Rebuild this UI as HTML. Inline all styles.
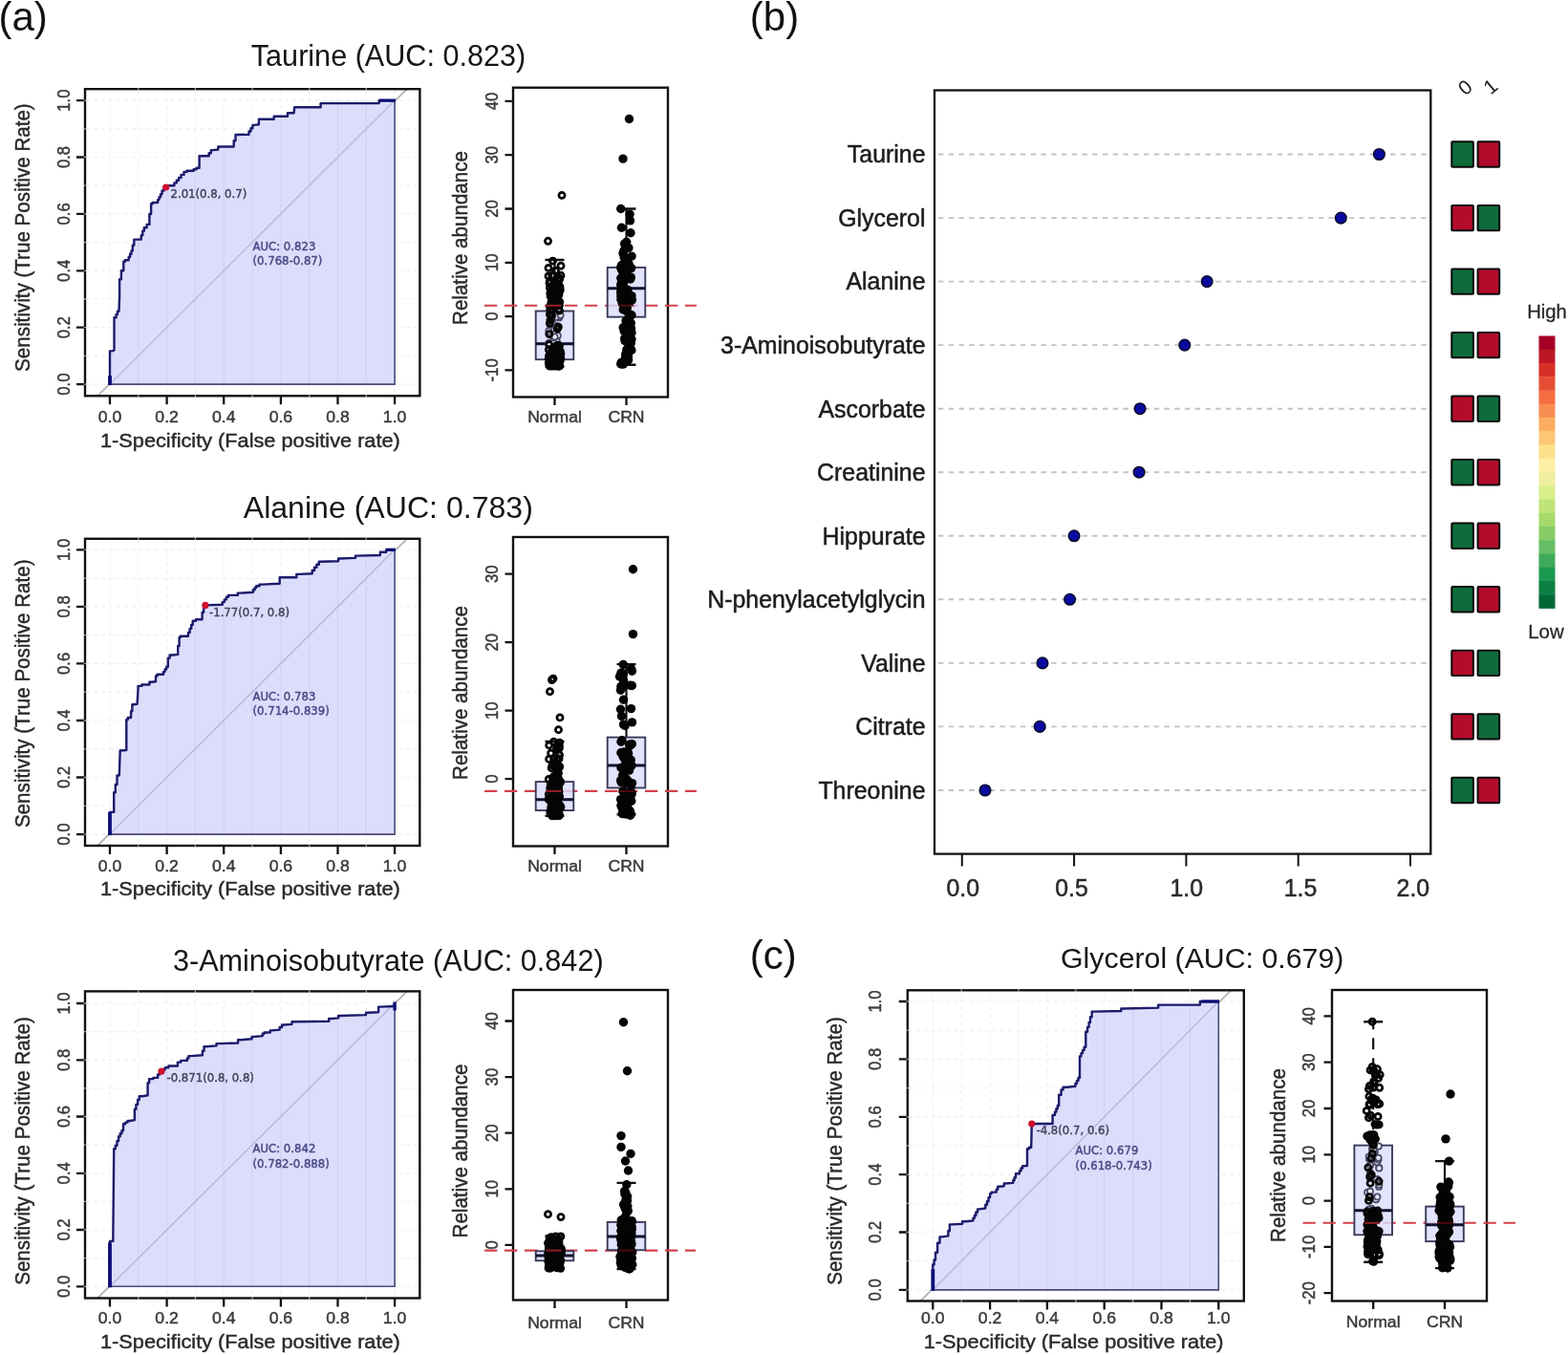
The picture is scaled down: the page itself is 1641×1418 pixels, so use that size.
<!DOCTYPE html>
<html lang="en"><head><meta charset="utf-8"><title>ROC curves and VIP scores</title>
<style>
html,body{margin:0;padding:0;background:#fff;}
body{width:1641px;height:1418px;overflow:hidden;font-family:"Liberation Sans", Arial, sans-serif;}
svg{display:block;}
</style></head><body>
<svg width="1641" height="1418" viewBox="0 0 1641 1418" font-family='"Liberation Sans", Arial, sans-serif' role="img" aria-label="ROC curves, box plots and VIP scores">
<rect width="1641" height="1418" fill="#fff"/>
<text x="-1.5" y="31.6" font-size="42" text-anchor="start" fill="#111">(a)</text>
<text x="784.8" y="31.6" font-size="42" text-anchor="start" fill="#111">(b)</text>
<text x="784.8" y="1013.6" font-size="42" text-anchor="start" fill="#111">(c)</text>
<text x="406.5" y="69.0" font-size="30.6" text-anchor="middle" fill="#151515">Taurine (AUC: 0.823)</text>
<text x="406.3" y="542.0" font-size="32.1" text-anchor="middle" fill="#151515">Alanine (AUC: 0.783)</text>
<text x="406.3" y="1015.7" font-size="30.6" text-anchor="middle" fill="#151515">3-Aminoisobutyrate (AUC: 0.842)</text>
<text x="1258.2" y="1013.4" font-size="30.3" text-anchor="middle" fill="#151515">Glycerol (AUC: 0.679)</text>
<g>
<path d="M115.0 94.2V413.3M90.0 402.1H438.4M144.8 94.2V413.3M90.0 372.4H438.4M174.6 94.2V413.3M90.0 342.7H438.4M204.4 94.2V413.3M90.0 313.0H438.4M234.2 94.2V413.3M90.0 283.3H438.4M264.1 94.2V413.3M90.0 253.6H438.4M293.9 94.2V413.3M90.0 223.9H438.4M323.7 94.2V413.3M90.0 194.2H438.4M353.5 94.2V413.3M90.0 164.5H438.4M383.3 94.2V413.3M90.0 134.8H438.4M413.1 94.2V413.3M90.0 105.1H438.4" stroke="#f0f0f0" stroke-width="1.2" stroke-dasharray="4 4" fill="none"/>
<line x1="102.1" y1="414.3" x2="426.0" y2="93.2" stroke="#b4b4b4" stroke-width="1.8"/>
<path d="M115.0 402.1L115.0 393.2V367.4H117.4L119.5 366.5L119.5 339.7V332.3H121.6V329.0H123.0V325.8H124.5L125.1 310.0V292.2H126.9V283.3H129.3V273.8H130.8V272.3H134.7V269.0H136.1V265.8H137.5V262.5H138.8V256.6H140.3V250.6H141.8L147.8 250.6V246.2H149.3V241.7H150.8V238.3H153.6V234.9H156.4V224.0H158.1V213.2H159.7V212.0H165.1V209.1H166.6V206.1H168.1V203.1H169.6V199.5H171.6V196.0H173.7V194.2H182.4V191.4H184.8V188.7H187.1V185.9H189.5V182.9H192.5V179.9H195.5V178.8H202.6V177.3H205.6V175.8H208.6L208.6 163.3L218.7 163.3V160.2H220.8V157.1H222.9L228.3 156.5V153.5H231.3L244.7 153.5V147.3H246.5V141.0H248.3L260.5 140.7V137.5H262.5V134.2H264.4V130.9H266.4L270.9 130.3V124.7H272.1L286.7 124.7V121.7H289.4L301.0 121.7V118.2H304.0L307.6 118.2L308.2 112.2L335.6 112.2V108.1H338.0L396.7 108.1V105.1H398.2L413.1 105.1L413.1 402.1Z" fill="#dcddfb" stroke="none"/>
<path d="M144.8 402.1V250.6M174.6 402.1V196.0M204.4 402.1V178.8M234.2 402.1V153.5M264.1 402.1V140.7M293.9 402.1V121.7M323.7 402.1V112.2M353.5 402.1V108.1M383.3 402.1V108.1" stroke="#d0d0f4" stroke-width="1.2" fill="none"/>
<line x1="115.0" y1="402.1" x2="413.1" y2="105.1" stroke="#b4b4d2" stroke-width="1.3"/>
<path d="M115.0 402.1H413.1V105.1" stroke="#4a4a78" stroke-width="1.6" fill="none"/>
<path d="M115.0 402.1L115.0 393.2V367.4H117.4L119.5 366.5L119.5 339.7V332.3H121.6V329.0H123.0V325.8H124.5L125.1 310.0V292.2H126.9V283.3H129.3V273.8H130.8V272.3H134.7V269.0H136.1V265.8H137.5V262.5H138.8V256.6H140.3V250.6H141.8L147.8 250.6V246.2H149.3V241.7H150.8V238.3H153.6V234.9H156.4V224.0H158.1V213.2H159.7V212.0H165.1V209.1H166.6V206.1H168.1V203.1H169.6V199.5H171.6V196.0H173.7V194.2H182.4V191.4H184.8V188.7H187.1V185.9H189.5V182.9H192.5V179.9H195.5V178.8H202.6V177.3H205.6V175.8H208.6L208.6 163.3L218.7 163.3V160.2H220.8V157.1H222.9L228.3 156.5V153.5H231.3L244.7 153.5V147.3H246.5V141.0H248.3L260.5 140.7V137.5H262.5V134.2H264.4V130.9H266.4L270.9 130.3V124.7H272.1L286.7 124.7V121.7H289.4L301.0 121.7V118.2H304.0L307.6 118.2L308.2 112.2L335.6 112.2V108.1H338.0L396.7 108.1V105.1H398.2L413.1 105.1" stroke="#1b1b6b" stroke-width="2.4" fill="none" stroke-linejoin="round"/>
<path d="M115.0 403.1V393.2" stroke="#0c0c78" stroke-width="3.8" fill="none"/>
<path d="M396.7 105.1H413.9" stroke="#0c0c78" stroke-width="3.2" fill="none"/>
<circle cx="173.7" cy="196.0" r="3.6" fill="#d01030"/>
<text x="178.5" y="206.5" font-size="11.7" text-anchor="start" fill="#44445e" stroke="#44445e" stroke-width="0.45" font-family="DejaVu Sans, Liberation Sans, sans-serif">2.01(0.8, 0.7)</text>
<text x="264.5" y="261.9" font-size="11.7" text-anchor="start" fill="#4a4a86" stroke="#4a4a86" stroke-width="0.45" font-family="DejaVu Sans, Liberation Sans, sans-serif">AUC: 0.823</text>
<text x="264.5" y="277.3" font-size="11.7" text-anchor="start" fill="#4a4a86" stroke="#4a4a86" stroke-width="0.45" font-family="DejaVu Sans, Liberation Sans, sans-serif">(0.768-0.87)</text>
<rect x="89.0" y="93.2" width="350.4" height="321.1" fill="none" stroke="#111" stroke-width="2.4"/>
<path d="M115.0 414.3v9M89.0 402.1h-9M174.6 414.3v9M89.0 342.7h-9M234.2 414.3v9M89.0 283.3h-9M293.9 414.3v9M89.0 223.9h-9M353.5 414.3v9M89.0 164.5h-9M413.1 414.3v9M89.0 105.1h-9" stroke="#111" stroke-width="2.3" fill="none"/>
<path d="M87.5 402.1h3M144.8 91.7v3M144.8 412.8v3M87.5 372.4h3M87.5 342.7h3M204.4 91.7v3M204.4 412.8v3M87.5 313.0h3M87.5 283.3h3M264.1 91.7v3M264.1 412.8v3M87.5 253.6h3M87.5 223.9h3M323.7 91.7v3M323.7 412.8v3M87.5 194.2h3M87.5 164.5h3M383.3 91.7v3M383.3 412.8v3M87.5 134.8h3M87.5 105.1h3" stroke="#fff" stroke-opacity="0.55" stroke-width="1.3" fill="none"/>
<text transform="translate(115.0 441.8) scale(1.055 1)" font-size="16.7" text-anchor="middle" fill="#3a3a3a" stroke="#3a3a3a" stroke-width="0.45">0.0</text>
<text transform="translate(72.7 402.1) scale(1.055 1) rotate(-90)" font-size="16.7" text-anchor="middle" fill="#3a3a3a" stroke="#3a3a3a" stroke-width="0.45">0.0</text>
<text transform="translate(174.6 441.8) scale(1.055 1)" font-size="16.7" text-anchor="middle" fill="#3a3a3a" stroke="#3a3a3a" stroke-width="0.45">0.2</text>
<text transform="translate(72.7 342.7) scale(1.055 1) rotate(-90)" font-size="16.7" text-anchor="middle" fill="#3a3a3a" stroke="#3a3a3a" stroke-width="0.45">0.2</text>
<text transform="translate(234.2 441.8) scale(1.055 1)" font-size="16.7" text-anchor="middle" fill="#3a3a3a" stroke="#3a3a3a" stroke-width="0.45">0.4</text>
<text transform="translate(72.7 283.3) scale(1.055 1) rotate(-90)" font-size="16.7" text-anchor="middle" fill="#3a3a3a" stroke="#3a3a3a" stroke-width="0.45">0.4</text>
<text transform="translate(293.9 441.8) scale(1.055 1)" font-size="16.7" text-anchor="middle" fill="#3a3a3a" stroke="#3a3a3a" stroke-width="0.45">0.6</text>
<text transform="translate(72.7 223.9) scale(1.055 1) rotate(-90)" font-size="16.7" text-anchor="middle" fill="#3a3a3a" stroke="#3a3a3a" stroke-width="0.45">0.6</text>
<text transform="translate(353.5 441.8) scale(1.055 1)" font-size="16.7" text-anchor="middle" fill="#3a3a3a" stroke="#3a3a3a" stroke-width="0.45">0.8</text>
<text transform="translate(72.7 164.5) scale(1.055 1) rotate(-90)" font-size="16.7" text-anchor="middle" fill="#3a3a3a" stroke="#3a3a3a" stroke-width="0.45">0.8</text>
<text transform="translate(413.1 441.8) scale(1.055 1)" font-size="16.7" text-anchor="middle" fill="#3a3a3a" stroke="#3a3a3a" stroke-width="0.45">1.0</text>
<text transform="translate(72.7 105.1) scale(1.055 1) rotate(-90)" font-size="16.7" text-anchor="middle" fill="#3a3a3a" stroke="#3a3a3a" stroke-width="0.45">1.0</text>
<text transform="translate(261.9 467.5) scale(1.055 1)" font-size="20.6" text-anchor="middle" fill="#2a2a2a" stroke="#2a2a2a" stroke-width="0.45">1-Specificity (False positive rate)</text>
<text transform="translate(30.5 248.6) scale(1.055 1) rotate(-90)" font-size="20.6" text-anchor="middle" fill="#2a2a2a" stroke="#2a2a2a" stroke-width="0.45">Sensitivity (True Positive Rate)</text>
</g>
<g>
<path d="M115.0 564.8V884.0M90.0 873.1H438.3M144.8 564.8V884.0M90.0 843.3H438.3M174.6 564.8V884.0M90.0 813.5H438.3M204.4 564.8V884.0M90.0 783.8H438.3M234.2 564.8V884.0M90.0 754.0H438.3M264.1 564.8V884.0M90.0 724.2H438.3M293.9 564.8V884.0M90.0 694.4H438.3M323.7 564.8V884.0M90.0 664.6H438.3M353.5 564.8V884.0M90.0 634.9H438.3M383.3 564.8V884.0M90.0 605.1H438.3M413.1 564.8V884.0M90.0 575.3H438.3" stroke="#f0f0f0" stroke-width="1.2" stroke-dasharray="4 4" fill="none"/>
<line x1="102.1" y1="885.0" x2="426.0" y2="563.8" stroke="#b4b4b4" stroke-width="1.8"/>
<path d="M115.0 873.1L115.0 849.9L119.2 849.9L119.2 837.4V829.2H120.8V821.0H122.5V811.5H124.8L125.7 785.5L132.3 785.0V753.1H133.8V751.0H137.1V744.2H138.4V737.3H139.7L143.6 736.7L144.5 721.5V717.9H148.4V716.5H156.4V713.8H158.2L163.0 713.2V707.5H164.5V705.7H171.0V703.1H172.6V700.4H174.2V697.7H175.8V688.8H177.6V685.5H180.9L186.2 684.9V676.0H187.6V667.0H188.9V665.8H197.0V661.9H198.6V657.9H200.2V653.9H201.7V649.8H205.0V648.3H211.6V640.8H213.2V633.4H214.9L232.7 632.8V630.1H234.8V627.4H236.9V624.7H239.0V622.9H248.8V620.6H252.1L264.9 619.7V617.3H266.6V614.9H268.2V613.3H271.5V611.6H274.8L292.7 610.7V604.2H295.1L310.3 604.2V600.9H312.6L326.7 600.3V597.0H329.0V593.8H331.4V590.8H333.8V587.8H336.2L354.1 587.2V584.5H355.9L372.0 583.9V581.6H373.5L397.9 581.0V577.7H399.4L404.2 577.7V575.3H405.3L413.1 575.3L413.1 873.1Z" fill="#dcddfb" stroke="none"/>
<path d="M144.8 873.1V721.5M174.6 873.1V705.7M204.4 873.1V653.9M234.2 873.1V632.8M264.1 873.1V620.6M293.9 873.1V610.7M323.7 873.1V600.9M353.5 873.1V587.8M383.3 873.1V581.6" stroke="#d0d0f4" stroke-width="1.2" fill="none"/>
<line x1="115.0" y1="873.1" x2="413.1" y2="575.3" stroke="#b4b4d2" stroke-width="1.3"/>
<path d="M115.0 873.1H413.1V575.3" stroke="#4a4a78" stroke-width="1.6" fill="none"/>
<path d="M115.0 873.1L115.0 849.9L119.2 849.9L119.2 837.4V829.2H120.8V821.0H122.5V811.5H124.8L125.7 785.5L132.3 785.0V753.1H133.8V751.0H137.1V744.2H138.4V737.3H139.7L143.6 736.7L144.5 721.5V717.9H148.4V716.5H156.4V713.8H158.2L163.0 713.2V707.5H164.5V705.7H171.0V703.1H172.6V700.4H174.2V697.7H175.8V688.8H177.6V685.5H180.9L186.2 684.9V676.0H187.6V667.0H188.9V665.8H197.0V661.9H198.6V657.9H200.2V653.9H201.7V649.8H205.0V648.3H211.6V640.8H213.2V633.4H214.9L232.7 632.8V630.1H234.8V627.4H236.9V624.7H239.0V622.9H248.8V620.6H252.1L264.9 619.7V617.3H266.6V614.9H268.2V613.3H271.5V611.6H274.8L292.7 610.7V604.2H295.1L310.3 604.2V600.9H312.6L326.7 600.3V597.0H329.0V593.8H331.4V590.8H333.8V587.8H336.2L354.1 587.2V584.5H355.9L372.0 583.9V581.6H373.5L397.9 581.0V577.7H399.4L404.2 577.7V575.3H405.3L413.1 575.3" stroke="#1b1b6b" stroke-width="2.4" fill="none" stroke-linejoin="round"/>
<path d="M115.0 874.1V849.9" stroke="#0c0c78" stroke-width="3.8" fill="none"/>
<path d="M404.2 575.3H413.9" stroke="#0c0c78" stroke-width="3.2" fill="none"/>
<circle cx="214.9" cy="633.4" r="3.6" fill="#d01030"/>
<text x="219.0" y="644.5" font-size="11.7" text-anchor="start" fill="#44445e" stroke="#44445e" stroke-width="0.45" font-family="DejaVu Sans, Liberation Sans, sans-serif">-1.77(0.7, 0.8)</text>
<text x="264.5" y="732.9" font-size="11.7" text-anchor="start" fill="#4a4a86" stroke="#4a4a86" stroke-width="0.45" font-family="DejaVu Sans, Liberation Sans, sans-serif">AUC: 0.783</text>
<text x="264.5" y="748.3" font-size="11.7" text-anchor="start" fill="#4a4a86" stroke="#4a4a86" stroke-width="0.45" font-family="DejaVu Sans, Liberation Sans, sans-serif">(0.714-0.839)</text>
<rect x="89.0" y="563.8" width="350.3" height="321.2" fill="none" stroke="#111" stroke-width="2.4"/>
<path d="M115.0 885.0v9M89.0 873.1h-9M174.6 885.0v9M89.0 813.5h-9M234.2 885.0v9M89.0 754.0h-9M293.9 885.0v9M89.0 694.4h-9M353.5 885.0v9M89.0 634.9h-9M413.1 885.0v9M89.0 575.3h-9" stroke="#111" stroke-width="2.3" fill="none"/>
<path d="M87.5 873.1h3M144.8 562.3v3M144.8 883.5v3M87.5 843.3h3M87.5 813.5h3M204.4 562.3v3M204.4 883.5v3M87.5 783.8h3M87.5 754.0h3M264.1 562.3v3M264.1 883.5v3M87.5 724.2h3M87.5 694.4h3M323.7 562.3v3M323.7 883.5v3M87.5 664.6h3M87.5 634.9h3M383.3 562.3v3M383.3 883.5v3M87.5 605.1h3M87.5 575.3h3" stroke="#fff" stroke-opacity="0.55" stroke-width="1.3" fill="none"/>
<text transform="translate(115.0 911.5) scale(1.055 1)" font-size="16.7" text-anchor="middle" fill="#3a3a3a" stroke="#3a3a3a" stroke-width="0.45">0.0</text>
<text transform="translate(72.7 873.1) scale(1.055 1) rotate(-90)" font-size="16.7" text-anchor="middle" fill="#3a3a3a" stroke="#3a3a3a" stroke-width="0.45">0.0</text>
<text transform="translate(174.6 911.5) scale(1.055 1)" font-size="16.7" text-anchor="middle" fill="#3a3a3a" stroke="#3a3a3a" stroke-width="0.45">0.2</text>
<text transform="translate(72.7 813.5) scale(1.055 1) rotate(-90)" font-size="16.7" text-anchor="middle" fill="#3a3a3a" stroke="#3a3a3a" stroke-width="0.45">0.2</text>
<text transform="translate(234.2 911.5) scale(1.055 1)" font-size="16.7" text-anchor="middle" fill="#3a3a3a" stroke="#3a3a3a" stroke-width="0.45">0.4</text>
<text transform="translate(72.7 754.0) scale(1.055 1) rotate(-90)" font-size="16.7" text-anchor="middle" fill="#3a3a3a" stroke="#3a3a3a" stroke-width="0.45">0.4</text>
<text transform="translate(293.9 911.5) scale(1.055 1)" font-size="16.7" text-anchor="middle" fill="#3a3a3a" stroke="#3a3a3a" stroke-width="0.45">0.6</text>
<text transform="translate(72.7 694.4) scale(1.055 1) rotate(-90)" font-size="16.7" text-anchor="middle" fill="#3a3a3a" stroke="#3a3a3a" stroke-width="0.45">0.6</text>
<text transform="translate(353.5 911.5) scale(1.055 1)" font-size="16.7" text-anchor="middle" fill="#3a3a3a" stroke="#3a3a3a" stroke-width="0.45">0.8</text>
<text transform="translate(72.7 634.9) scale(1.055 1) rotate(-90)" font-size="16.7" text-anchor="middle" fill="#3a3a3a" stroke="#3a3a3a" stroke-width="0.45">0.8</text>
<text transform="translate(413.1 911.5) scale(1.055 1)" font-size="16.7" text-anchor="middle" fill="#3a3a3a" stroke="#3a3a3a" stroke-width="0.45">1.0</text>
<text transform="translate(72.7 575.3) scale(1.055 1) rotate(-90)" font-size="16.7" text-anchor="middle" fill="#3a3a3a" stroke="#3a3a3a" stroke-width="0.45">1.0</text>
<text transform="translate(261.9 937.0) scale(1.055 1)" font-size="20.6" text-anchor="middle" fill="#2a2a2a" stroke="#2a2a2a" stroke-width="0.45">1-Specificity (False positive rate)</text>
<text transform="translate(30.5 725.8) scale(1.055 1) rotate(-90)" font-size="20.6" text-anchor="middle" fill="#2a2a2a" stroke="#2a2a2a" stroke-width="0.45">Sensitivity (True Positive Rate)</text>
</g>
<g>
<path d="M115.0 1038.4V1357.5M90.0 1346.3H438.3M144.8 1038.4V1357.5M90.0 1316.7H438.3M174.6 1038.4V1357.5M90.0 1287.0H438.3M204.4 1038.4V1357.5M90.0 1257.4H438.3M234.2 1038.4V1357.5M90.0 1227.8H438.3M264.1 1038.4V1357.5M90.0 1198.2H438.3M293.9 1038.4V1357.5M90.0 1168.5H438.3M323.7 1038.4V1357.5M90.0 1138.9H438.3M353.5 1038.4V1357.5M90.0 1109.3H438.3M383.3 1038.4V1357.5M90.0 1079.6H438.3M413.1 1038.4V1357.5M90.0 1050.0H438.3" stroke="#f0f0f0" stroke-width="1.2" stroke-dasharray="4 4" fill="none"/>
<line x1="102.1" y1="1358.5" x2="426.0" y2="1037.4" stroke="#b4b4b4" stroke-width="1.8"/>
<path d="M115.0 1346.3L115.0 1300.4V1298.9H118.3L119.2 1205.9V1202.3H120.8V1198.7H122.5V1194.0H124.1V1189.3H125.7V1186.3H127.4V1183.3H129.0V1176.2H131.1V1174.6H133.5V1173.0H135.9L140.9 1172.1V1160.8H142.4V1155.9H144.1V1151.0H145.7V1147.2H149.0L154.6 1146.3V1133.3H156.1V1129.1H160.3V1127.9H165.1V1124.5H167.0V1121.1H169.0V1119.2H172.7V1117.3H176.4V1115.5H185.9V1111.6H189.2V1109.9H195.8V1107.5H197.4V1105.1H199.1L211.9 1104.2V1099.8H213.5V1095.3H215.2L226.5 1094.4V1092.1H228.0L249.1 1091.5V1088.2H252.1L263.5 1087.3V1085.0H265.2L274.8 1084.1V1081.7H276.6V1080.5H282.8V1078.4H284.6L292.7 1077.6V1075.0H295.1V1072.5H297.4L305.5 1071.9V1069.3H307.3L344.2 1068.7V1066.0H347.5L354.1 1065.4V1063.0H355.6L383.0 1062.1V1059.8H385.4L396.1 1059.2V1053.6H398.2L412.2 1053.0L413.1 1050.0L413.1 1346.3Z" fill="#dcddfb" stroke="none"/>
<path d="M144.8 1346.3V1160.8M174.6 1346.3V1121.1M204.4 1346.3V1105.1M234.2 1346.3V1092.1M264.1 1346.3V1087.3M293.9 1346.3V1077.6M323.7 1346.3V1069.3M353.5 1346.3V1066.0M383.3 1346.3V1062.1" stroke="#d0d0f4" stroke-width="1.2" fill="none"/>
<line x1="115.0" y1="1346.3" x2="413.1" y2="1050.0" stroke="#b4b4d2" stroke-width="1.3"/>
<path d="M115.0 1346.3H413.1V1050.0" stroke="#4a4a78" stroke-width="1.6" fill="none"/>
<path d="M115.0 1346.3L115.0 1300.4V1298.9H118.3L119.2 1205.9V1202.3H120.8V1198.7H122.5V1194.0H124.1V1189.3H125.7V1186.3H127.4V1183.3H129.0V1176.2H131.1V1174.6H133.5V1173.0H135.9L140.9 1172.1V1160.8H142.4V1155.9H144.1V1151.0H145.7V1147.2H149.0L154.6 1146.3V1133.3H156.1V1129.1H160.3V1127.9H165.1V1124.5H167.0V1121.1H169.0V1119.2H172.7V1117.3H176.4V1115.5H185.9V1111.6H189.2V1109.9H195.8V1107.5H197.4V1105.1H199.1L211.9 1104.2V1099.8H213.5V1095.3H215.2L226.5 1094.4V1092.1H228.0L249.1 1091.5V1088.2H252.1L263.5 1087.3V1085.0H265.2L274.8 1084.1V1081.7H276.6V1080.5H282.8V1078.4H284.6L292.7 1077.6V1075.0H295.1V1072.5H297.4L305.5 1071.9V1069.3H307.3L344.2 1068.7V1066.0H347.5L354.1 1065.4V1063.0H355.6L383.0 1062.1V1059.8H385.4L396.1 1059.2V1053.6H398.2L412.2 1053.0L413.1 1050.0" stroke="#1b1b6b" stroke-width="2.4" fill="none" stroke-linejoin="round"/>
<path d="M115.0 1347.3V1300.4" stroke="#0c0c78" stroke-width="3.8" fill="none"/>
<path d="M413.1 1048.5V1057.4" stroke="#0c0c78" stroke-width="3.4" fill="none"/>
<circle cx="169.0" cy="1121.1" r="3.6" fill="#d01030"/>
<text x="174.5" y="1131.5" font-size="11.7" text-anchor="start" fill="#44445e" stroke="#44445e" stroke-width="0.45" font-family="DejaVu Sans, Liberation Sans, sans-serif">-0.871(0.8, 0.8)</text>
<text x="264.5" y="1206.4" font-size="11.7" text-anchor="start" fill="#4a4a86" stroke="#4a4a86" stroke-width="0.45" font-family="DejaVu Sans, Liberation Sans, sans-serif">AUC: 0.842</text>
<text x="264.5" y="1221.8" font-size="11.7" text-anchor="start" fill="#4a4a86" stroke="#4a4a86" stroke-width="0.45" font-family="DejaVu Sans, Liberation Sans, sans-serif">(0.782-0.888)</text>
<rect x="89.0" y="1037.4" width="350.3" height="321.1" fill="none" stroke="#111" stroke-width="2.4"/>
<path d="M115.0 1358.5v9M89.0 1346.3h-9M174.6 1358.5v9M89.0 1287.0h-9M234.2 1358.5v9M89.0 1227.8h-9M293.9 1358.5v9M89.0 1168.5h-9M353.5 1358.5v9M89.0 1109.3h-9M413.1 1358.5v9M89.0 1050.0h-9" stroke="#111" stroke-width="2.3" fill="none"/>
<path d="M87.5 1346.3h3M144.8 1035.9v3M144.8 1357.0v3M87.5 1316.7h3M87.5 1287.0h3M204.4 1035.9v3M204.4 1357.0v3M87.5 1257.4h3M87.5 1227.8h3M264.1 1035.9v3M264.1 1357.0v3M87.5 1198.2h3M87.5 1168.5h3M323.7 1035.9v3M323.7 1357.0v3M87.5 1138.9h3M87.5 1109.3h3M383.3 1035.9v3M383.3 1357.0v3M87.5 1079.6h3M87.5 1050.0h3" stroke="#fff" stroke-opacity="0.55" stroke-width="1.3" fill="none"/>
<text transform="translate(115.0 1385.0) scale(1.055 1)" font-size="16.7" text-anchor="middle" fill="#3a3a3a" stroke="#3a3a3a" stroke-width="0.45">0.0</text>
<text transform="translate(72.7 1346.3) scale(1.055 1) rotate(-90)" font-size="16.7" text-anchor="middle" fill="#3a3a3a" stroke="#3a3a3a" stroke-width="0.45">0.0</text>
<text transform="translate(174.6 1385.0) scale(1.055 1)" font-size="16.7" text-anchor="middle" fill="#3a3a3a" stroke="#3a3a3a" stroke-width="0.45">0.2</text>
<text transform="translate(72.7 1287.0) scale(1.055 1) rotate(-90)" font-size="16.7" text-anchor="middle" fill="#3a3a3a" stroke="#3a3a3a" stroke-width="0.45">0.2</text>
<text transform="translate(234.2 1385.0) scale(1.055 1)" font-size="16.7" text-anchor="middle" fill="#3a3a3a" stroke="#3a3a3a" stroke-width="0.45">0.4</text>
<text transform="translate(72.7 1227.8) scale(1.055 1) rotate(-90)" font-size="16.7" text-anchor="middle" fill="#3a3a3a" stroke="#3a3a3a" stroke-width="0.45">0.4</text>
<text transform="translate(293.9 1385.0) scale(1.055 1)" font-size="16.7" text-anchor="middle" fill="#3a3a3a" stroke="#3a3a3a" stroke-width="0.45">0.6</text>
<text transform="translate(72.7 1168.5) scale(1.055 1) rotate(-90)" font-size="16.7" text-anchor="middle" fill="#3a3a3a" stroke="#3a3a3a" stroke-width="0.45">0.6</text>
<text transform="translate(353.5 1385.0) scale(1.055 1)" font-size="16.7" text-anchor="middle" fill="#3a3a3a" stroke="#3a3a3a" stroke-width="0.45">0.8</text>
<text transform="translate(72.7 1109.3) scale(1.055 1) rotate(-90)" font-size="16.7" text-anchor="middle" fill="#3a3a3a" stroke="#3a3a3a" stroke-width="0.45">0.8</text>
<text transform="translate(413.1 1385.0) scale(1.055 1)" font-size="16.7" text-anchor="middle" fill="#3a3a3a" stroke="#3a3a3a" stroke-width="0.45">1.0</text>
<text transform="translate(72.7 1050.0) scale(1.055 1) rotate(-90)" font-size="16.7" text-anchor="middle" fill="#3a3a3a" stroke="#3a3a3a" stroke-width="0.45">1.0</text>
<text transform="translate(261.9 1411.0) scale(1.055 1)" font-size="20.6" text-anchor="middle" fill="#2a2a2a" stroke="#2a2a2a" stroke-width="0.45">1-Specificity (False positive rate)</text>
<text transform="translate(30.5 1204.5) scale(1.055 1) rotate(-90)" font-size="20.6" text-anchor="middle" fill="#2a2a2a" stroke="#2a2a2a" stroke-width="0.45">Sensitivity (True Positive Rate)</text>
</g>
<g>
<path d="M976.3 1037.3V1360.5M950.8 1349.9H1300.8M1006.2 1037.3V1360.5M950.8 1319.7H1300.8M1036.1 1037.3V1360.5M950.8 1289.5H1300.8M1066.0 1037.3V1360.5M950.8 1259.3H1300.8M1095.9 1037.3V1360.5M950.8 1229.1H1300.8M1125.8 1037.3V1360.5M950.8 1199.0H1300.8M1155.7 1037.3V1360.5M950.8 1168.8H1300.8M1185.6 1037.3V1360.5M950.8 1138.6H1300.8M1215.5 1037.3V1360.5M950.8 1108.4H1300.8M1245.4 1037.3V1360.5M950.8 1078.2H1300.8M1275.3 1037.3V1360.5M950.8 1048.0H1300.8" stroke="#f0f0f0" stroke-width="1.2" stroke-dasharray="4 4" fill="none"/>
<line x1="963.3" y1="1361.5" x2="1288.3" y2="1036.3" stroke="#b4b4b4" stroke-width="1.8"/>
<path d="M976.3 1349.9L976.3 1328.2V1323.3H977.6V1318.5H979.0V1310.7H981.1V1300.7H983.5V1294.4H985.9L992.4 1293.4V1288.0H993.9V1281.4H996.3L1007.1 1280.8V1278.3H1010.4L1018.5 1277.4V1274.6H1020.0V1271.7H1021.4V1268.5H1023.1V1265.4H1024.7L1031.3 1264.5V1260.8H1033.0V1257.2H1034.6V1253.1H1036.1V1249.1H1037.6V1247.6H1042.7V1244.7H1044.2V1241.8H1045.7L1050.8 1241.2V1238.5H1052.2L1060.3 1237.9V1235.0H1061.7V1232.2H1063.0V1228.2H1066.9V1225.4H1068.5V1222.5H1070.2V1220.1H1075.0V1202.3H1077.1V1200.8H1079.2L1079.8 1176.0L1101.6 1176.0V1166.9H1104.0V1163.6H1105.4V1160.3H1106.8V1157.0H1108.2V1145.8H1110.6V1140.4H1112.6V1137.7H1116.8L1125.5 1136.8V1133.8H1127.0V1130.9H1128.5V1128.0H1130.0V1105.4H1131.5V1102.1H1133.1V1098.9H1134.7V1095.7H1136.3V1079.7H1138.1V1074.9H1139.6V1070.0H1141.0V1064.3H1142.7V1058.6H1144.3L1173.3 1058.0V1055.5H1176.0L1212.2 1054.6V1051.6H1214.9L1255.9 1051.6V1048.0H1257.4L1275.3 1048.0L1275.3 1349.9Z" fill="#dcddfb" stroke="none"/>
<path d="M1006.2 1349.9V1281.4M1036.1 1349.9V1257.2M1066.0 1349.9V1232.2M1095.9 1349.9V1176.0M1125.8 1349.9V1136.8M1155.7 1349.9V1058.6M1185.6 1349.9V1055.5M1215.5 1349.9V1051.6M1245.4 1349.9V1051.6" stroke="#d0d0f4" stroke-width="1.2" fill="none"/>
<line x1="976.3" y1="1349.9" x2="1275.3" y2="1048.0" stroke="#b4b4d2" stroke-width="1.3"/>
<path d="M976.3 1349.9H1275.3V1048.0" stroke="#4a4a78" stroke-width="1.6" fill="none"/>
<path d="M976.3 1349.9L976.3 1328.2V1323.3H977.6V1318.5H979.0V1310.7H981.1V1300.7H983.5V1294.4H985.9L992.4 1293.4V1288.0H993.9V1281.4H996.3L1007.1 1280.8V1278.3H1010.4L1018.5 1277.4V1274.6H1020.0V1271.7H1021.4V1268.5H1023.1V1265.4H1024.7L1031.3 1264.5V1260.8H1033.0V1257.2H1034.6V1253.1H1036.1V1249.1H1037.6V1247.6H1042.7V1244.7H1044.2V1241.8H1045.7L1050.8 1241.2V1238.5H1052.2L1060.3 1237.9V1235.0H1061.7V1232.2H1063.0V1228.2H1066.9V1225.4H1068.5V1222.5H1070.2V1220.1H1075.0V1202.3H1077.1V1200.8H1079.2L1079.8 1176.0L1101.6 1176.0V1166.9H1104.0V1163.6H1105.4V1160.3H1106.8V1157.0H1108.2V1145.8H1110.6V1140.4H1112.6V1137.7H1116.8L1125.5 1136.8V1133.8H1127.0V1130.9H1128.5V1128.0H1130.0V1105.4H1131.5V1102.1H1133.1V1098.9H1134.7V1095.7H1136.3V1079.7H1138.1V1074.9H1139.6V1070.0H1141.0V1064.3H1142.7V1058.6H1144.3L1173.3 1058.0V1055.5H1176.0L1212.2 1054.6V1051.6H1214.9L1255.9 1051.6V1048.0H1257.4L1275.3 1048.0" stroke="#1b1b6b" stroke-width="2.4" fill="none" stroke-linejoin="round"/>
<path d="M976.3 1350.9V1328.2" stroke="#0c0c78" stroke-width="3.8" fill="none"/>
<path d="M1257.4 1048.0H1276.1" stroke="#0c0c78" stroke-width="3.2" fill="none"/>
<circle cx="1079.8" cy="1176.0" r="3.6" fill="#d01030"/>
<text x="1084.5" y="1187.0" font-size="11.7" text-anchor="start" fill="#44445e" stroke="#44445e" stroke-width="0.45" font-family="DejaVu Sans, Liberation Sans, sans-serif">-4.8(0.7, 0.6)</text>
<text x="1125.5" y="1208.1" font-size="11.7" text-anchor="start" fill="#4a4a86" stroke="#4a4a86" stroke-width="0.45" font-family="DejaVu Sans, Liberation Sans, sans-serif">AUC: 0.679</text>
<text x="1125.5" y="1223.5" font-size="11.7" text-anchor="start" fill="#4a4a86" stroke="#4a4a86" stroke-width="0.45" font-family="DejaVu Sans, Liberation Sans, sans-serif">(0.618-0.743)</text>
<rect x="949.8" y="1036.3" width="352.0" height="325.2" fill="none" stroke="#111" stroke-width="2.4"/>
<path d="M976.3 1361.5v9M949.8 1349.9h-9M1036.1 1361.5v9M949.8 1289.5h-9M1095.9 1361.5v9M949.8 1229.1h-9M1155.7 1361.5v9M949.8 1168.8h-9M1215.5 1361.5v9M949.8 1108.4h-9M1275.3 1361.5v9M949.8 1048.0h-9" stroke="#111" stroke-width="2.3" fill="none"/>
<path d="M948.3 1349.9h3M1006.2 1034.8v3M1006.2 1360.0v3M948.3 1319.7h3M948.3 1289.5h3M1066.0 1034.8v3M1066.0 1360.0v3M948.3 1259.3h3M948.3 1229.1h3M1125.8 1034.8v3M1125.8 1360.0v3M948.3 1199.0h3M948.3 1168.8h3M1185.6 1034.8v3M1185.6 1360.0v3M948.3 1138.6h3M948.3 1108.4h3M1245.4 1034.8v3M1245.4 1360.0v3M948.3 1078.2h3M948.3 1048.0h3" stroke="#fff" stroke-opacity="0.55" stroke-width="1.3" fill="none"/>
<text transform="translate(976.3 1384.8) scale(1.055 1)" font-size="16.7" text-anchor="middle" fill="#3a3a3a" stroke="#3a3a3a" stroke-width="0.45">0.0</text>
<text transform="translate(921.8 1349.9) scale(1.055 1) rotate(-90)" font-size="16.7" text-anchor="middle" fill="#3a3a3a" stroke="#3a3a3a" stroke-width="0.45">0.0</text>
<text transform="translate(1036.1 1384.8) scale(1.055 1)" font-size="16.7" text-anchor="middle" fill="#3a3a3a" stroke="#3a3a3a" stroke-width="0.45">0.2</text>
<text transform="translate(921.8 1289.5) scale(1.055 1) rotate(-90)" font-size="16.7" text-anchor="middle" fill="#3a3a3a" stroke="#3a3a3a" stroke-width="0.45">0.2</text>
<text transform="translate(1095.9 1384.8) scale(1.055 1)" font-size="16.7" text-anchor="middle" fill="#3a3a3a" stroke="#3a3a3a" stroke-width="0.45">0.4</text>
<text transform="translate(921.8 1229.1) scale(1.055 1) rotate(-90)" font-size="16.7" text-anchor="middle" fill="#3a3a3a" stroke="#3a3a3a" stroke-width="0.45">0.4</text>
<text transform="translate(1155.7 1384.8) scale(1.055 1)" font-size="16.7" text-anchor="middle" fill="#3a3a3a" stroke="#3a3a3a" stroke-width="0.45">0.6</text>
<text transform="translate(921.8 1168.8) scale(1.055 1) rotate(-90)" font-size="16.7" text-anchor="middle" fill="#3a3a3a" stroke="#3a3a3a" stroke-width="0.45">0.6</text>
<text transform="translate(1215.5 1384.8) scale(1.055 1)" font-size="16.7" text-anchor="middle" fill="#3a3a3a" stroke="#3a3a3a" stroke-width="0.45">0.8</text>
<text transform="translate(921.8 1108.4) scale(1.055 1) rotate(-90)" font-size="16.7" text-anchor="middle" fill="#3a3a3a" stroke="#3a3a3a" stroke-width="0.45">0.8</text>
<text transform="translate(1275.3 1384.8) scale(1.055 1)" font-size="16.7" text-anchor="middle" fill="#3a3a3a" stroke="#3a3a3a" stroke-width="0.45">1.0</text>
<text transform="translate(921.8 1048.0) scale(1.055 1) rotate(-90)" font-size="16.7" text-anchor="middle" fill="#3a3a3a" stroke="#3a3a3a" stroke-width="0.45">1.0</text>
<text transform="translate(1123.6 1410.5) scale(1.055 1)" font-size="20.6" text-anchor="middle" fill="#2a2a2a" stroke="#2a2a2a" stroke-width="0.45">1-Specificity (False positive rate)</text>
<text transform="translate(880.6 1204.5) scale(1.055 1) rotate(-90)" font-size="20.6" text-anchor="middle" fill="#2a2a2a" stroke="#2a2a2a" stroke-width="0.45">Sensitivity (True Positive Rate)</text>
</g>
<g>
<rect x="537.0" y="91.7" width="162.0" height="323.8" fill="#fff" stroke="#111" stroke-width="2.4"/>
<path d="M537.0 387.4h-8.5M537.0 331.1h-8.5M537.0 274.8h-8.5M537.0 218.5h-8.5M537.0 162.2h-8.5M537.0 105.9h-8.5M580.5 415.5v8.5M655.5 415.5v8.5" stroke="#111" stroke-width="2.3" fill="none"/>
<text transform="translate(520.5 387.4) scale(1.055 1) rotate(-90)" font-size="16.7" text-anchor="middle" fill="#3a3a3a" stroke="#3a3a3a" stroke-width="0.45">-10</text>
<text transform="translate(520.5 331.1) scale(1.055 1) rotate(-90)" font-size="16.7" text-anchor="middle" fill="#3a3a3a" stroke="#3a3a3a" stroke-width="0.45">0</text>
<text transform="translate(520.5 274.8) scale(1.055 1) rotate(-90)" font-size="16.7" text-anchor="middle" fill="#3a3a3a" stroke="#3a3a3a" stroke-width="0.45">10</text>
<text transform="translate(520.5 218.5) scale(1.055 1) rotate(-90)" font-size="16.7" text-anchor="middle" fill="#3a3a3a" stroke="#3a3a3a" stroke-width="0.45">20</text>
<text transform="translate(520.5 162.2) scale(1.055 1) rotate(-90)" font-size="16.7" text-anchor="middle" fill="#3a3a3a" stroke="#3a3a3a" stroke-width="0.45">30</text>
<text transform="translate(520.5 105.9) scale(1.055 1) rotate(-90)" font-size="16.7" text-anchor="middle" fill="#3a3a3a" stroke="#3a3a3a" stroke-width="0.45">40</text>
<text transform="translate(580.5 441.5) scale(1.055 1)" font-size="16.7" text-anchor="middle" fill="#3a3a3a" stroke="#3a3a3a" stroke-width="0.45">Normal</text>
<text transform="translate(655.5 441.5) scale(1.055 1)" font-size="16.7" text-anchor="middle" fill="#3a3a3a" stroke="#3a3a3a" stroke-width="0.45">CRN</text>
<text transform="translate(489.0 249.0) scale(1.055 1) rotate(-90)" font-size="20.6" text-anchor="middle" fill="#2a2a2a" stroke="#2a2a2a" stroke-width="0.45">Relative abundance</text>
<path d="M507.0 319.8H729.0" stroke="#d2414c" stroke-width="2.1" stroke-dasharray="13.3 7.7" fill="none"/>
<path d="M580.5 272.0V325.5" stroke="#111" stroke-width="2.2" fill="none"/>
<path d="M580.5 376.1V383.5" stroke="#111" stroke-width="2.2" fill="none"/>
<path d="M570.5 272.0h20M570.5 383.5h20" stroke="#111" stroke-width="2.4" fill="none"/>
<rect x="560.7" y="325.5" width="39.6" height="50.7" fill="#dcddfb" fill-opacity="0.82" stroke="#3a3a58" stroke-width="1.9"/>
<path d="M560.7 359.8h39.6" stroke="#111130" stroke-width="3" fill="none"/>
<path d="M655.5 218.5V279.9" stroke="#111" stroke-width="2.2" fill="none"/>
<path d="M655.5 331.7V381.8" stroke="#111" stroke-width="2.2" fill="none"/>
<path d="M645.5 218.5h20M645.5 381.8h20" stroke="#111" stroke-width="2.4" fill="none"/>
<rect x="635.7" y="279.9" width="39.6" height="51.8" fill="#dcddfb" fill-opacity="0.82" stroke="#3a3a58" stroke-width="1.9"/>
<path d="M635.7 301.8h39.6" stroke="#111130" stroke-width="3" fill="none"/>
<g fill="#e9e9fd" stroke="#4a4a66" stroke-width="1.7"><circle cx="576.3" cy="339.7" r="3.1"/><circle cx="585.2" cy="332.4" r="3.1"/><circle cx="584.4" cy="331.8" r="3.1"/><circle cx="582.8" cy="357.0" r="3.1"/><circle cx="574.2" cy="359.3" r="3.1"/><circle cx="583.8" cy="351.2" r="3.1"/><circle cx="578.5" cy="357.4" r="3.1"/><circle cx="576.1" cy="341.7" r="3.1"/><circle cx="576.2" cy="350.4" r="3.1"/><circle cx="578.2" cy="343.5" r="3.1"/><circle cx="574.3" cy="346.5" r="3.1"/><circle cx="579.5" cy="353.4" r="3.1"/><circle cx="580.6" cy="352.6" r="3.1"/><circle cx="581.9" cy="331.8" r="3.1"/><circle cx="574.3" cy="359.2" r="3.1"/><circle cx="576.1" cy="335.6" r="3.1"/><circle cx="582.8" cy="341.1" r="3.1"/><circle cx="576.9" cy="326.3" r="3.1"/><circle cx="576.9" cy="337.5" r="3.1"/><circle cx="579.1" cy="340.0" r="3.1"/><circle cx="578.2" cy="338.1" r="3.1"/><circle cx="586.6" cy="329.7" r="3.1"/><circle cx="578.0" cy="330.3" r="3.1"/></g>
<g fill="none" stroke="#050505" stroke-width="2.7"><circle cx="575.7" cy="370.1" r="3.1"/><circle cx="583.9" cy="379.4" r="3.1"/><circle cx="580.4" cy="376.4" r="3.1"/><circle cx="582.5" cy="371.0" r="3.1"/><circle cx="575.2" cy="383.0" r="3.1"/><circle cx="584.9" cy="376.6" r="3.1"/><circle cx="583.9" cy="383.4" r="3.1"/><circle cx="579.8" cy="372.1" r="3.1"/><circle cx="577.0" cy="368.6" r="3.1"/><circle cx="585.7" cy="383.0" r="3.1"/><circle cx="574.3" cy="374.9" r="3.1"/><circle cx="586.2" cy="377.4" r="3.1"/><circle cx="576.8" cy="376.8" r="3.1"/><circle cx="574.4" cy="380.0" r="3.1"/><circle cx="579.7" cy="375.6" r="3.1"/><circle cx="577.0" cy="379.8" r="3.1"/><circle cx="576.8" cy="376.2" r="3.1"/><circle cx="577.8" cy="383.1" r="3.1"/><circle cx="584.9" cy="374.7" r="3.1"/><circle cx="582.3" cy="380.5" r="3.1"/><circle cx="586.9" cy="369.9" r="3.1"/><circle cx="575.6" cy="378.2" r="3.1"/><circle cx="583.4" cy="372.2" r="3.1"/><circle cx="586.2" cy="376.8" r="3.1"/><circle cx="584.8" cy="372.9" r="3.1"/><circle cx="577.9" cy="374.2" r="3.1"/><circle cx="585.5" cy="370.1" r="3.1"/><circle cx="580.6" cy="374.2" r="3.1"/><circle cx="574.4" cy="379.6" r="3.1"/><circle cx="584.4" cy="376.9" r="3.1"/><circle cx="576.2" cy="374.8" r="3.1"/><circle cx="583.1" cy="372.8" r="3.1"/><circle cx="578.9" cy="376.5" r="3.1"/><circle cx="580.6" cy="371.2" r="3.1"/><circle cx="580.8" cy="377.3" r="3.1"/><circle cx="580.4" cy="383.0" r="3.1"/><circle cx="574.6" cy="372.4" r="3.1"/><circle cx="586.8" cy="374.1" r="3.1"/><circle cx="579.1" cy="380.8" r="3.1"/><circle cx="580.5" cy="368.0" r="3.1"/><circle cx="584.0" cy="375.0" r="3.1"/><circle cx="585.2" cy="379.8" r="3.1"/><circle cx="580.7" cy="368.4" r="3.1"/><circle cx="581.5" cy="376.2" r="3.1"/><circle cx="577.5" cy="374.8" r="3.1"/><circle cx="586.4" cy="367.7" r="3.1"/><circle cx="584.2" cy="361.2" r="3.1"/><circle cx="585.5" cy="361.9" r="3.1"/><circle cx="584.5" cy="363.6" r="3.1"/><circle cx="581.3" cy="364.3" r="3.1"/><circle cx="574.7" cy="360.8" r="3.1"/><circle cx="581.4" cy="366.1" r="3.1"/><circle cx="580.6" cy="363.9" r="3.1"/><circle cx="578.6" cy="365.0" r="3.1"/><circle cx="581.0" cy="362.8" r="3.1"/><circle cx="582.0" cy="364.1" r="3.1"/><circle cx="574.4" cy="365.9" r="3.1"/><circle cx="577.3" cy="330.9" r="3.1"/><circle cx="575.4" cy="338.4" r="3.1"/><circle cx="583.3" cy="344.2" r="3.1"/><circle cx="575.4" cy="328.9" r="3.1"/><circle cx="575.9" cy="335.1" r="3.1"/><circle cx="584.4" cy="342.1" r="3.1"/><circle cx="574.8" cy="349.6" r="3.1"/><circle cx="578.2" cy="299.0" r="3.1"/><circle cx="583.4" cy="313.8" r="3.1"/><circle cx="577.5" cy="325.2" r="3.1"/><circle cx="585.0" cy="324.4" r="3.1"/><circle cx="584.3" cy="298.4" r="3.1"/><circle cx="581.3" cy="320.6" r="3.1"/><circle cx="584.9" cy="298.1" r="3.1"/><circle cx="582.9" cy="311.1" r="3.1"/><circle cx="579.0" cy="315.7" r="3.1"/><circle cx="577.0" cy="306.5" r="3.1"/><circle cx="579.7" cy="320.0" r="3.1"/><circle cx="575.8" cy="306.7" r="3.1"/><circle cx="578.1" cy="311.4" r="3.1"/><circle cx="578.4" cy="300.9" r="3.1"/><circle cx="585.3" cy="325.0" r="3.1"/><circle cx="576.9" cy="316.2" r="3.1"/><circle cx="586.3" cy="303.4" r="3.1"/><circle cx="578.6" cy="319.5" r="3.1"/><circle cx="582.6" cy="301.9" r="3.1"/><circle cx="585.7" cy="315.8" r="3.1"/><circle cx="585.1" cy="306.1" r="3.1"/><circle cx="580.3" cy="297.7" r="3.1"/><circle cx="577.3" cy="305.0" r="3.1"/><circle cx="575.5" cy="320.7" r="3.1"/><circle cx="585.4" cy="319.5" r="3.1"/><circle cx="583.6" cy="308.6" r="3.1"/><circle cx="584.6" cy="315.1" r="3.1"/><circle cx="578.6" cy="317.3" r="3.1"/><circle cx="584.9" cy="308.5" r="3.1"/><circle cx="586.0" cy="300.5" r="3.1"/><circle cx="576.1" cy="310.0" r="3.1"/><circle cx="575.8" cy="324.4" r="3.1"/><circle cx="575.4" cy="301.1" r="3.1"/><circle cx="584.0" cy="302.1" r="3.1"/><circle cx="578.6" cy="308.2" r="3.1"/><circle cx="583.9" cy="314.8" r="3.1"/><circle cx="581.3" cy="294.8" r="3.1"/><circle cx="575.5" cy="294.3" r="3.1"/><circle cx="585.2" cy="291.0" r="3.1"/><circle cx="585.6" cy="292.2" r="3.1"/><circle cx="577.8" cy="288.5" r="3.1"/><circle cx="573.5" cy="252.3" r="3.1"/><circle cx="588.0" cy="204.4" r="3.1"/><circle cx="574.0" cy="280.4" r="3.1"/><circle cx="587.0" cy="278.2" r="3.1"/><circle cx="574.0" cy="288.9" r="3.1"/><circle cx="587.0" cy="288.3" r="3.1"/><circle cx="578.5" cy="273.1" r="3.1"/><circle cx="575.0" cy="296.2" r="3.1"/><circle cx="581.5" cy="283.2" r="3.1"/></g>
<path d="M571.5 319.8h16" stroke="#8e1c26" stroke-width="2.1" fill="none"/>
<g fill="#040404"><circle cx="661.0" cy="355.1" r="4.7"/><circle cx="650.2" cy="379.4" r="4.7"/><circle cx="659.5" cy="361.1" r="4.7"/><circle cx="657.5" cy="373.1" r="4.7"/><circle cx="656.8" cy="364.7" r="4.7"/><circle cx="656.5" cy="377.3" r="4.7"/><circle cx="654.7" cy="370.7" r="4.7"/><circle cx="658.2" cy="353.8" r="4.7"/><circle cx="660.9" cy="366.5" r="4.7"/><circle cx="654.8" cy="374.2" r="4.7"/><circle cx="649.9" cy="381.0" r="4.7"/><circle cx="655.1" cy="372.8" r="4.7"/><circle cx="654.1" cy="356.7" r="4.7"/><circle cx="655.8" cy="366.0" r="4.7"/><circle cx="652.3" cy="381.1" r="4.7"/><circle cx="653.4" cy="377.9" r="4.7"/><circle cx="655.6" cy="353.7" r="4.7"/><circle cx="657.6" cy="376.7" r="4.7"/><circle cx="660.2" cy="359.3" r="4.7"/><circle cx="658.3" cy="356.2" r="4.7"/><circle cx="658.7" cy="359.5" r="4.7"/><circle cx="653.7" cy="354.2" r="4.7"/><circle cx="661.0" cy="348.2" r="4.7"/><circle cx="658.5" cy="329.5" r="4.7"/><circle cx="655.0" cy="335.7" r="4.7"/><circle cx="655.4" cy="322.4" r="4.7"/><circle cx="655.5" cy="325.5" r="4.7"/><circle cx="653.7" cy="323.8" r="4.7"/><circle cx="660.3" cy="338.0" r="4.7"/><circle cx="656.3" cy="322.5" r="4.7"/><circle cx="658.2" cy="337.2" r="4.7"/><circle cx="652.2" cy="342.7" r="4.7"/><circle cx="657.9" cy="348.0" r="4.7"/><circle cx="660.4" cy="344.6" r="4.7"/><circle cx="660.4" cy="343.2" r="4.7"/><circle cx="661.0" cy="329.8" r="4.7"/><circle cx="655.6" cy="336.1" r="4.7"/><circle cx="657.3" cy="333.8" r="4.7"/><circle cx="653.2" cy="346.6" r="4.7"/><circle cx="655.6" cy="322.1" r="4.7"/><circle cx="657.0" cy="351.1" r="4.7"/><circle cx="659.3" cy="329.1" r="4.7"/><circle cx="660.4" cy="347.2" r="4.7"/><circle cx="658.4" cy="351.6" r="4.7"/><circle cx="657.3" cy="344.4" r="4.7"/><circle cx="652.2" cy="324.0" r="4.7"/><circle cx="650.8" cy="299.3" r="4.7"/><circle cx="659.7" cy="310.2" r="4.7"/><circle cx="652.0" cy="285.1" r="4.7"/><circle cx="654.6" cy="291.6" r="4.7"/><circle cx="649.9" cy="305.6" r="4.7"/><circle cx="651.6" cy="293.3" r="4.7"/><circle cx="650.5" cy="282.2" r="4.7"/><circle cx="649.8" cy="291.1" r="4.7"/><circle cx="649.8" cy="309.8" r="4.7"/><circle cx="659.3" cy="313.6" r="4.7"/><circle cx="651.7" cy="292.6" r="4.7"/><circle cx="654.1" cy="318.1" r="4.7"/><circle cx="661.4" cy="313.9" r="4.7"/><circle cx="649.9" cy="306.3" r="4.7"/><circle cx="656.9" cy="290.6" r="4.7"/><circle cx="650.9" cy="306.6" r="4.7"/><circle cx="649.9" cy="302.2" r="4.7"/><circle cx="658.7" cy="290.7" r="4.7"/><circle cx="660.3" cy="290.1" r="4.7"/><circle cx="659.8" cy="292.0" r="4.7"/><circle cx="655.2" cy="311.0" r="4.7"/><circle cx="657.4" cy="307.4" r="4.7"/><circle cx="650.7" cy="302.2" r="4.7"/><circle cx="660.0" cy="314.8" r="4.7"/><circle cx="656.5" cy="304.4" r="4.7"/><circle cx="655.7" cy="314.2" r="4.7"/><circle cx="661.0" cy="309.6" r="4.7"/><circle cx="656.8" cy="303.3" r="4.7"/><circle cx="649.7" cy="297.9" r="4.7"/><circle cx="651.2" cy="317.6" r="4.7"/><circle cx="649.9" cy="313.5" r="4.7"/><circle cx="650.7" cy="294.8" r="4.7"/><circle cx="655.6" cy="281.1" r="4.7"/><circle cx="660.7" cy="280.6" r="4.7"/><circle cx="652.3" cy="302.3" r="4.7"/><circle cx="652.5" cy="296.5" r="4.7"/><circle cx="657.0" cy="288.3" r="4.7"/><circle cx="658.0" cy="309.7" r="4.7"/><circle cx="654.6" cy="271.5" r="4.7"/><circle cx="649.6" cy="279.8" r="4.7"/><circle cx="654.4" cy="278.6" r="4.7"/><circle cx="658.2" cy="276.4" r="4.7"/><circle cx="650.7" cy="277.4" r="4.7"/><circle cx="652.3" cy="276.8" r="4.7"/><circle cx="655.7" cy="272.6" r="4.7"/><circle cx="653.2" cy="269.6" r="4.7"/><circle cx="652.0" cy="265.1" r="4.7"/><circle cx="661.1" cy="268.1" r="4.7"/><circle cx="654.7" cy="271.8" r="4.7"/><circle cx="656.5" cy="279.6" r="4.7"/><circle cx="654.8" cy="257.6" r="4.7"/><circle cx="652.9" cy="262.5" r="4.7"/><circle cx="657.9" cy="259.4" r="4.7"/><circle cx="655.7" cy="253.2" r="4.7"/><circle cx="652.0" cy="166.1" r="4.7"/><circle cx="658.5" cy="124.5" r="4.7"/><circle cx="649.8" cy="218.5" r="4.7"/><circle cx="659.1" cy="224.1" r="4.7"/><circle cx="650.5" cy="238.2" r="4.7"/><circle cx="660.0" cy="243.8" r="4.7"/><circle cx="653.5" cy="255.1" r="4.7"/><circle cx="659.5" cy="230.9" r="4.7"/></g>
<path d="M647.5 319.8h16" stroke="#5e0c16" stroke-width="2.1" stroke-opacity="0.8" fill="none"/>
</g>
<g>
<rect x="537.0" y="562.0" width="162.0" height="323.5" fill="#fff" stroke="#111" stroke-width="2.4"/>
<path d="M537.0 815.2h-8.5M537.0 743.7h-8.5M537.0 672.2h-8.5M537.0 600.7h-8.5M580.5 885.5v8.5M655.5 885.5v8.5" stroke="#111" stroke-width="2.3" fill="none"/>
<text transform="translate(520.5 815.2) scale(1.055 1) rotate(-90)" font-size="16.7" text-anchor="middle" fill="#3a3a3a" stroke="#3a3a3a" stroke-width="0.45">0</text>
<text transform="translate(520.5 743.7) scale(1.055 1) rotate(-90)" font-size="16.7" text-anchor="middle" fill="#3a3a3a" stroke="#3a3a3a" stroke-width="0.45">10</text>
<text transform="translate(520.5 672.2) scale(1.055 1) rotate(-90)" font-size="16.7" text-anchor="middle" fill="#3a3a3a" stroke="#3a3a3a" stroke-width="0.45">20</text>
<text transform="translate(520.5 600.7) scale(1.055 1) rotate(-90)" font-size="16.7" text-anchor="middle" fill="#3a3a3a" stroke="#3a3a3a" stroke-width="0.45">30</text>
<text transform="translate(580.5 911.5) scale(1.055 1)" font-size="16.7" text-anchor="middle" fill="#3a3a3a" stroke="#3a3a3a" stroke-width="0.45">Normal</text>
<text transform="translate(655.5 911.5) scale(1.055 1)" font-size="16.7" text-anchor="middle" fill="#3a3a3a" stroke="#3a3a3a" stroke-width="0.45">CRN</text>
<text transform="translate(489.0 725.0) scale(1.055 1) rotate(-90)" font-size="20.6" text-anchor="middle" fill="#2a2a2a" stroke="#2a2a2a" stroke-width="0.45">Relative abundance</text>
<path d="M507.0 827.9H729.0" stroke="#d2414c" stroke-width="2.1" stroke-dasharray="13.3 7.7" fill="none"/>
<path d="M580.5 775.9V818.1" stroke="#111" stroke-width="2.2" fill="none"/>
<path d="M580.5 848.1V853.8" stroke="#111" stroke-width="2.2" fill="none"/>
<path d="M570.5 775.9h20M570.5 853.8h20" stroke="#111" stroke-width="2.4" fill="none"/>
<rect x="560.7" y="818.1" width="39.6" height="30.0" fill="#dcddfb" fill-opacity="0.82" stroke="#3a3a58" stroke-width="1.9"/>
<path d="M560.7 836.7h39.6" stroke="#111130" stroke-width="3" fill="none"/>
<path d="M655.5 695.1V771.6" stroke="#111" stroke-width="2.2" fill="none"/>
<path d="M655.5 824.5V852.4" stroke="#111" stroke-width="2.2" fill="none"/>
<path d="M645.5 695.1h20M645.5 852.4h20" stroke="#111" stroke-width="2.4" fill="none"/>
<rect x="635.7" y="771.6" width="39.6" height="52.9" fill="#dcddfb" fill-opacity="0.82" stroke="#3a3a58" stroke-width="1.9"/>
<path d="M635.7 800.9h39.6" stroke="#111130" stroke-width="3" fill="none"/>
<g fill="none" stroke="#050505" stroke-width="2.7"><circle cx="577.1" cy="842.9" r="3.1"/><circle cx="578.8" cy="841.6" r="3.1"/><circle cx="582.1" cy="853.1" r="3.1"/><circle cx="574.2" cy="836.6" r="3.1"/><circle cx="577.4" cy="849.5" r="3.1"/><circle cx="586.9" cy="844.4" r="3.1"/><circle cx="584.9" cy="844.3" r="3.1"/><circle cx="582.3" cy="851.3" r="3.1"/><circle cx="582.3" cy="835.9" r="3.1"/><circle cx="580.8" cy="838.6" r="3.1"/><circle cx="582.7" cy="853.2" r="3.1"/><circle cx="583.9" cy="841.8" r="3.1"/><circle cx="577.9" cy="853.9" r="3.1"/><circle cx="585.3" cy="844.4" r="3.1"/><circle cx="583.3" cy="835.7" r="3.1"/><circle cx="583.3" cy="834.8" r="3.1"/><circle cx="579.1" cy="837.3" r="3.1"/><circle cx="579.8" cy="834.5" r="3.1"/><circle cx="585.4" cy="852.4" r="3.1"/><circle cx="575.8" cy="849.9" r="3.1"/><circle cx="586.6" cy="845.2" r="3.1"/><circle cx="582.1" cy="848.1" r="3.1"/><circle cx="580.6" cy="846.2" r="3.1"/><circle cx="578.6" cy="842.0" r="3.1"/><circle cx="581.6" cy="835.1" r="3.1"/><circle cx="582.9" cy="834.6" r="3.1"/><circle cx="585.1" cy="833.3" r="3.1"/><circle cx="582.7" cy="851.0" r="3.1"/><circle cx="585.2" cy="833.8" r="3.1"/><circle cx="585.8" cy="842.3" r="3.1"/><circle cx="583.3" cy="850.0" r="3.1"/><circle cx="584.8" cy="842.2" r="3.1"/><circle cx="577.7" cy="853.2" r="3.1"/><circle cx="585.1" cy="833.3" r="3.1"/><circle cx="575.2" cy="837.4" r="3.1"/><circle cx="579.3" cy="851.3" r="3.1"/><circle cx="577.8" cy="838.0" r="3.1"/><circle cx="585.3" cy="853.6" r="3.1"/><circle cx="582.0" cy="853.6" r="3.1"/><circle cx="583.3" cy="847.4" r="3.1"/><circle cx="585.5" cy="833.5" r="3.1"/><circle cx="580.6" cy="833.1" r="3.1"/><circle cx="578.0" cy="852.9" r="3.1"/><circle cx="581.8" cy="853.9" r="3.1"/><circle cx="576.6" cy="845.8" r="3.1"/><circle cx="581.9" cy="851.2" r="3.1"/><circle cx="574.6" cy="835.9" r="3.1"/><circle cx="578.1" cy="834.0" r="3.1"/><circle cx="585.7" cy="846.4" r="3.1"/><circle cx="580.0" cy="843.4" r="3.1"/><circle cx="582.4" cy="816.0" r="3.1"/><circle cx="581.3" cy="815.3" r="3.1"/><circle cx="586.2" cy="818.6" r="3.1"/><circle cx="579.6" cy="812.5" r="3.1"/><circle cx="577.1" cy="824.5" r="3.1"/><circle cx="586.7" cy="818.2" r="3.1"/><circle cx="581.1" cy="832.7" r="3.1"/><circle cx="579.4" cy="816.5" r="3.1"/><circle cx="574.3" cy="815.5" r="3.1"/><circle cx="582.2" cy="831.4" r="3.1"/><circle cx="582.2" cy="819.7" r="3.1"/><circle cx="582.8" cy="823.0" r="3.1"/><circle cx="583.2" cy="812.0" r="3.1"/><circle cx="574.3" cy="831.3" r="3.1"/><circle cx="582.8" cy="805.5" r="3.1"/><circle cx="577.3" cy="820.0" r="3.1"/><circle cx="581.7" cy="823.9" r="3.1"/><circle cx="578.7" cy="824.1" r="3.1"/><circle cx="578.8" cy="816.0" r="3.1"/><circle cx="577.9" cy="822.3" r="3.1"/><circle cx="584.0" cy="832.3" r="3.1"/><circle cx="581.4" cy="812.0" r="3.1"/><circle cx="578.0" cy="826.7" r="3.1"/><circle cx="584.4" cy="826.2" r="3.1"/><circle cx="576.4" cy="820.6" r="3.1"/><circle cx="583.1" cy="830.2" r="3.1"/><circle cx="578.2" cy="823.5" r="3.1"/><circle cx="584.8" cy="820.5" r="3.1"/><circle cx="585.1" cy="828.2" r="3.1"/><circle cx="578.4" cy="814.5" r="3.1"/><circle cx="585.5" cy="820.2" r="3.1"/><circle cx="576.9" cy="829.6" r="3.1"/><circle cx="580.9" cy="827.6" r="3.1"/><circle cx="584.5" cy="809.1" r="3.1"/><circle cx="576.4" cy="825.1" r="3.1"/><circle cx="584.5" cy="814.7" r="3.1"/><circle cx="584.5" cy="823.2" r="3.1"/><circle cx="575.7" cy="824.7" r="3.1"/><circle cx="584.3" cy="825.3" r="3.1"/><circle cx="578.5" cy="821.2" r="3.1"/><circle cx="579.5" cy="800.1" r="3.1"/><circle cx="585.5" cy="802.8" r="3.1"/><circle cx="574.6" cy="794.4" r="3.1"/><circle cx="585.1" cy="793.9" r="3.1"/><circle cx="579.7" cy="794.3" r="3.1"/><circle cx="585.6" cy="802.1" r="3.1"/><circle cx="583.4" cy="795.5" r="3.1"/><circle cx="582.5" cy="798.9" r="3.1"/><circle cx="578.0" cy="800.8" r="3.1"/><circle cx="577.2" cy="803.7" r="3.1"/><circle cx="581.6" cy="801.4" r="3.1"/><circle cx="584.2" cy="804.0" r="3.1"/><circle cx="585.3" cy="780.9" r="3.1"/><circle cx="585.6" cy="777.1" r="3.1"/><circle cx="585.3" cy="783.0" r="3.1"/><circle cx="574.7" cy="779.9" r="3.1"/><circle cx="576.6" cy="788.2" r="3.1"/><circle cx="582.5" cy="784.0" r="3.1"/><circle cx="579.5" cy="776.3" r="3.1"/><circle cx="584.5" cy="763.7" r="3.1"/><circle cx="586.0" cy="750.9" r="3.1"/><circle cx="575.5" cy="723.7" r="3.1"/><circle cx="577.5" cy="711.5" r="3.1"/><circle cx="579.0" cy="710.1" r="3.1"/><circle cx="585.5" cy="790.2" r="3.1"/></g>
<path d="M571.5 827.9h16" stroke="#8e1c26" stroke-width="2.1" fill="none"/>
<g fill="#040404"><circle cx="652.1" cy="851.6" r="4.7"/><circle cx="654.1" cy="850.1" r="4.7"/><circle cx="649.9" cy="843.0" r="4.7"/><circle cx="660.9" cy="831.6" r="4.7"/><circle cx="658.9" cy="848.2" r="4.7"/><circle cx="656.0" cy="846.6" r="4.7"/><circle cx="651.2" cy="851.5" r="4.7"/><circle cx="651.8" cy="828.0" r="4.7"/><circle cx="659.8" cy="831.5" r="4.7"/><circle cx="659.4" cy="849.0" r="4.7"/><circle cx="653.0" cy="836.6" r="4.7"/><circle cx="658.5" cy="830.1" r="4.7"/><circle cx="660.4" cy="852.0" r="4.7"/><circle cx="656.9" cy="835.3" r="4.7"/><circle cx="655.6" cy="849.4" r="4.7"/><circle cx="655.2" cy="852.0" r="4.7"/><circle cx="661.1" cy="829.8" r="4.7"/><circle cx="656.1" cy="845.9" r="4.7"/><circle cx="660.8" cy="838.2" r="4.7"/><circle cx="660.5" cy="830.3" r="4.7"/><circle cx="655.6" cy="842.7" r="4.7"/><circle cx="656.8" cy="842.2" r="4.7"/><circle cx="651.1" cy="845.8" r="4.7"/><circle cx="659.6" cy="853.3" r="4.7"/><circle cx="649.6" cy="836.6" r="4.7"/><circle cx="652.6" cy="839.2" r="4.7"/><circle cx="655.2" cy="814.9" r="4.7"/><circle cx="661.5" cy="819.6" r="4.7"/><circle cx="654.5" cy="819.4" r="4.7"/><circle cx="657.1" cy="817.0" r="4.7"/><circle cx="653.8" cy="801.9" r="4.7"/><circle cx="653.3" cy="808.0" r="4.7"/><circle cx="660.4" cy="822.7" r="4.7"/><circle cx="650.2" cy="818.6" r="4.7"/><circle cx="658.7" cy="806.1" r="4.7"/><circle cx="652.3" cy="815.3" r="4.7"/><circle cx="651.6" cy="811.2" r="4.7"/><circle cx="650.0" cy="803.5" r="4.7"/><circle cx="660.3" cy="795.2" r="4.7"/><circle cx="658.3" cy="795.0" r="4.7"/><circle cx="649.7" cy="816.6" r="4.7"/><circle cx="661.1" cy="801.0" r="4.7"/><circle cx="654.4" cy="795.6" r="4.7"/><circle cx="656.9" cy="799.6" r="4.7"/><circle cx="653.0" cy="786.9" r="4.7"/><circle cx="654.8" cy="788.9" r="4.7"/><circle cx="654.1" cy="759.4" r="4.7"/><circle cx="653.5" cy="793.4" r="4.7"/><circle cx="650.0" cy="787.7" r="4.7"/><circle cx="658.9" cy="780.8" r="4.7"/><circle cx="653.0" cy="790.3" r="4.7"/><circle cx="661.3" cy="778.6" r="4.7"/><circle cx="652.0" cy="791.6" r="4.7"/><circle cx="650.2" cy="787.7" r="4.7"/><circle cx="657.6" cy="788.4" r="4.7"/><circle cx="650.0" cy="776.2" r="4.7"/><circle cx="652.5" cy="758.1" r="4.7"/><circle cx="651.0" cy="774.8" r="4.7"/><circle cx="658.8" cy="779.1" r="4.7"/><circle cx="661.4" cy="717.5" r="4.7"/><circle cx="652.4" cy="718.4" r="4.7"/><circle cx="649.9" cy="718.3" r="4.7"/><circle cx="652.5" cy="712.2" r="4.7"/><circle cx="659.5" cy="717.3" r="4.7"/><circle cx="649.9" cy="704.3" r="4.7"/><circle cx="652.4" cy="705.0" r="4.7"/><circle cx="652.3" cy="695.5" r="4.7"/><circle cx="651.2" cy="707.2" r="4.7"/><circle cx="660.6" cy="699.9" r="4.7"/><circle cx="661.4" cy="702.2" r="4.7"/><circle cx="662.5" cy="663.6" r="4.7"/><circle cx="662.5" cy="595.7" r="4.7"/><circle cx="661.5" cy="755.9" r="4.7"/><circle cx="649.5" cy="742.3" r="4.7"/><circle cx="648.5" cy="708.0" r="4.7"/><circle cx="650.5" cy="749.4" r="4.7"/><circle cx="652.5" cy="732.3" r="4.7"/><circle cx="660.5" cy="741.6" r="4.7"/><circle cx="649.5" cy="722.2" r="4.7"/></g>
<path d="M647.5 827.9h16" stroke="#5e0c16" stroke-width="2.1" stroke-opacity="0.8" fill="none"/>
</g>
<g>
<rect x="537.0" y="1036.0" width="162.0" height="324.5" fill="#fff" stroke="#111" stroke-width="2.4"/>
<path d="M537.0 1302.9h-8.5M537.0 1244.3h-8.5M537.0 1185.7h-8.5M537.0 1127.1h-8.5M537.0 1068.5h-8.5M580.5 1360.5v8.5M655.5 1360.5v8.5" stroke="#111" stroke-width="2.3" fill="none"/>
<text transform="translate(520.5 1302.9) scale(1.055 1) rotate(-90)" font-size="16.7" text-anchor="middle" fill="#3a3a3a" stroke="#3a3a3a" stroke-width="0.45">0</text>
<text transform="translate(520.5 1244.3) scale(1.055 1) rotate(-90)" font-size="16.7" text-anchor="middle" fill="#3a3a3a" stroke="#3a3a3a" stroke-width="0.45">10</text>
<text transform="translate(520.5 1185.7) scale(1.055 1) rotate(-90)" font-size="16.7" text-anchor="middle" fill="#3a3a3a" stroke="#3a3a3a" stroke-width="0.45">20</text>
<text transform="translate(520.5 1127.1) scale(1.055 1) rotate(-90)" font-size="16.7" text-anchor="middle" fill="#3a3a3a" stroke="#3a3a3a" stroke-width="0.45">30</text>
<text transform="translate(520.5 1068.5) scale(1.055 1) rotate(-90)" font-size="16.7" text-anchor="middle" fill="#3a3a3a" stroke="#3a3a3a" stroke-width="0.45">40</text>
<text transform="translate(580.5 1389.5) scale(1.055 1)" font-size="16.7" text-anchor="middle" fill="#3a3a3a" stroke="#3a3a3a" stroke-width="0.45">Normal</text>
<text transform="translate(655.5 1389.5) scale(1.055 1)" font-size="16.7" text-anchor="middle" fill="#3a3a3a" stroke="#3a3a3a" stroke-width="0.45">CRN</text>
<text transform="translate(489.0 1204.5) scale(1.055 1) rotate(-90)" font-size="20.6" text-anchor="middle" fill="#2a2a2a" stroke="#2a2a2a" stroke-width="0.45">Relative abundance</text>
<path d="M507.0 1308.6H728.0" stroke="#d2414c" stroke-width="2.1" stroke-dasharray="13.3 7.7" fill="none"/>
<path d="M580.5 1293.5V1309.3" stroke="#111" stroke-width="2.2" fill="none"/>
<path d="M580.5 1319.3V1327.5" stroke="#111" stroke-width="2.2" fill="none"/>
<path d="M570.5 1293.5h20M570.5 1327.5h20" stroke="#111" stroke-width="2.4" fill="none"/>
<rect x="560.7" y="1309.3" width="39.6" height="10.0" fill="#dcddfb" fill-opacity="0.82" stroke="#3a3a58" stroke-width="1.9"/>
<path d="M560.7 1314.0h39.6" stroke="#111130" stroke-width="3" fill="none"/>
<path d="M655.5 1237.9V1278.9" stroke="#111" stroke-width="2.2" fill="none"/>
<path d="M655.5 1308.2V1328.1" stroke="#111" stroke-width="2.2" fill="none"/>
<path d="M645.5 1237.9h20M645.5 1328.1h20" stroke="#111" stroke-width="2.4" fill="none"/>
<rect x="635.7" y="1278.9" width="39.6" height="29.3" fill="#dcddfb" fill-opacity="0.82" stroke="#3a3a58" stroke-width="1.9"/>
<path d="M635.7 1294.1h39.6" stroke="#111130" stroke-width="3" fill="none"/>
<g fill="none" stroke="#050505" stroke-width="2.7"><circle cx="582.1" cy="1320.1" r="3.1"/><circle cx="584.3" cy="1318.1" r="3.1"/><circle cx="583.6" cy="1318.3" r="3.1"/><circle cx="574.4" cy="1322.9" r="3.1"/><circle cx="586.3" cy="1321.0" r="3.1"/><circle cx="585.7" cy="1326.4" r="3.1"/><circle cx="580.1" cy="1325.1" r="3.1"/><circle cx="581.1" cy="1321.8" r="3.1"/><circle cx="574.2" cy="1325.4" r="3.1"/><circle cx="577.6" cy="1318.4" r="3.1"/><circle cx="584.0" cy="1325.9" r="3.1"/><circle cx="584.4" cy="1326.1" r="3.1"/><circle cx="582.0" cy="1326.2" r="3.1"/><circle cx="574.0" cy="1318.8" r="3.1"/><circle cx="576.7" cy="1325.4" r="3.1"/><circle cx="586.8" cy="1318.8" r="3.1"/><circle cx="577.8" cy="1317.9" r="3.1"/><circle cx="581.0" cy="1320.8" r="3.1"/><circle cx="576.7" cy="1318.1" r="3.1"/><circle cx="583.0" cy="1317.9" r="3.1"/><circle cx="585.6" cy="1324.5" r="3.1"/><circle cx="578.7" cy="1325.9" r="3.1"/><circle cx="575.9" cy="1326.9" r="3.1"/><circle cx="577.9" cy="1321.5" r="3.1"/><circle cx="574.0" cy="1320.8" r="3.1"/><circle cx="578.4" cy="1324.4" r="3.1"/><circle cx="584.6" cy="1322.7" r="3.1"/><circle cx="578.1" cy="1322.7" r="3.1"/><circle cx="583.2" cy="1326.9" r="3.1"/><circle cx="586.7" cy="1327.3" r="3.1"/><circle cx="583.7" cy="1319.1" r="3.1"/><circle cx="574.2" cy="1319.7" r="3.1"/><circle cx="578.8" cy="1321.7" r="3.1"/><circle cx="574.1" cy="1327.0" r="3.1"/><circle cx="576.4" cy="1318.0" r="3.1"/><circle cx="576.6" cy="1320.0" r="3.1"/><circle cx="586.1" cy="1318.1" r="3.1"/><circle cx="578.5" cy="1324.0" r="3.1"/><circle cx="580.8" cy="1319.8" r="3.1"/><circle cx="575.4" cy="1320.1" r="3.1"/><circle cx="584.4" cy="1318.9" r="3.1"/><circle cx="574.5" cy="1318.1" r="3.1"/><circle cx="575.2" cy="1324.1" r="3.1"/><circle cx="581.9" cy="1318.4" r="3.1"/><circle cx="578.4" cy="1318.3" r="3.1"/><circle cx="581.1" cy="1324.4" r="3.1"/><circle cx="578.1" cy="1325.7" r="3.1"/><circle cx="575.0" cy="1326.0" r="3.1"/><circle cx="583.0" cy="1317.6" r="3.1"/><circle cx="576.1" cy="1327.0" r="3.1"/><circle cx="587.3" cy="1311.3" r="3.1"/><circle cx="579.2" cy="1314.8" r="3.1"/><circle cx="581.8" cy="1307.9" r="3.1"/><circle cx="579.9" cy="1312.6" r="3.1"/><circle cx="574.3" cy="1306.8" r="3.1"/><circle cx="574.0" cy="1311.8" r="3.1"/><circle cx="585.2" cy="1316.0" r="3.1"/><circle cx="583.7" cy="1306.4" r="3.1"/><circle cx="582.3" cy="1308.3" r="3.1"/><circle cx="575.0" cy="1312.5" r="3.1"/><circle cx="575.6" cy="1307.6" r="3.1"/><circle cx="577.6" cy="1312.2" r="3.1"/><circle cx="587.5" cy="1307.6" r="3.1"/><circle cx="587.2" cy="1312.2" r="3.1"/><circle cx="580.3" cy="1309.0" r="3.1"/><circle cx="580.2" cy="1314.1" r="3.1"/><circle cx="579.2" cy="1315.8" r="3.1"/><circle cx="578.8" cy="1306.0" r="3.1"/><circle cx="586.9" cy="1310.2" r="3.1"/><circle cx="580.5" cy="1313.6" r="3.1"/><circle cx="574.7" cy="1314.4" r="3.1"/><circle cx="584.4" cy="1307.4" r="3.1"/><circle cx="578.6" cy="1308.3" r="3.1"/><circle cx="584.3" cy="1309.4" r="3.1"/><circle cx="582.8" cy="1308.6" r="3.1"/><circle cx="578.6" cy="1309.3" r="3.1"/><circle cx="577.4" cy="1311.9" r="3.1"/><circle cx="584.3" cy="1309.5" r="3.1"/><circle cx="577.6" cy="1306.5" r="3.1"/><circle cx="582.6" cy="1310.7" r="3.1"/><circle cx="573.7" cy="1311.1" r="3.1"/><circle cx="577.0" cy="1309.7" r="3.1"/><circle cx="580.0" cy="1308.0" r="3.1"/><circle cx="582.6" cy="1308.2" r="3.1"/><circle cx="578.4" cy="1310.0" r="3.1"/><circle cx="583.8" cy="1307.8" r="3.1"/><circle cx="578.4" cy="1307.7" r="3.1"/><circle cx="585.7" cy="1309.5" r="3.1"/><circle cx="587.2" cy="1306.3" r="3.1"/><circle cx="580.8" cy="1311.3" r="3.1"/><circle cx="575.8" cy="1307.7" r="3.1"/><circle cx="586.6" cy="1312.0" r="3.1"/><circle cx="583.2" cy="1309.1" r="3.1"/><circle cx="583.7" cy="1315.5" r="3.1"/><circle cx="584.4" cy="1310.7" r="3.1"/><circle cx="582.8" cy="1312.6" r="3.1"/><circle cx="582.2" cy="1308.5" r="3.1"/><circle cx="582.4" cy="1309.1" r="3.1"/><circle cx="573.9" cy="1315.7" r="3.1"/><circle cx="579.7" cy="1309.9" r="3.1"/><circle cx="576.6" cy="1297.4" r="3.1"/><circle cx="582.3" cy="1305.3" r="3.1"/><circle cx="580.1" cy="1303.0" r="3.1"/><circle cx="574.3" cy="1304.2" r="3.1"/><circle cx="577.9" cy="1303.6" r="3.1"/><circle cx="576.2" cy="1305.4" r="3.1"/><circle cx="580.0" cy="1301.2" r="3.1"/><circle cx="582.1" cy="1298.6" r="3.1"/><circle cx="576.8" cy="1294.7" r="3.1"/><circle cx="573.5" cy="1300.8" r="3.1"/><circle cx="577.4" cy="1300.8" r="3.1"/><circle cx="575.1" cy="1295.6" r="3.1"/><circle cx="578.7" cy="1305.4" r="3.1"/><circle cx="582.1" cy="1304.7" r="3.1"/><circle cx="581.1" cy="1301.7" r="3.1"/><circle cx="581.6" cy="1294.0" r="3.1"/><circle cx="585.0" cy="1300.7" r="3.1"/><circle cx="584.9" cy="1297.9" r="3.1"/><circle cx="578.7" cy="1304.1" r="3.1"/><circle cx="581.8" cy="1298.9" r="3.1"/><circle cx="586.9" cy="1293.9" r="3.1"/><circle cx="582.0" cy="1301.5" r="3.1"/><circle cx="586.0" cy="1305.8" r="3.1"/><circle cx="575.0" cy="1298.9" r="3.1"/><circle cx="573.5" cy="1270.7" r="3.1"/><circle cx="587.0" cy="1273.6" r="3.1"/></g>
<path d="M571.5 1308.6h16" stroke="#8e1c26" stroke-width="2.1" fill="none"/>
<g fill="#040404"><circle cx="659.3" cy="1312.2" r="4.7"/><circle cx="655.3" cy="1323.0" r="4.7"/><circle cx="649.0" cy="1315.3" r="4.7"/><circle cx="655.1" cy="1313.4" r="4.7"/><circle cx="653.9" cy="1313.2" r="4.7"/><circle cx="652.5" cy="1312.6" r="4.7"/><circle cx="658.5" cy="1320.1" r="4.7"/><circle cx="656.0" cy="1314.9" r="4.7"/><circle cx="651.5" cy="1317.4" r="4.7"/><circle cx="659.5" cy="1323.0" r="4.7"/><circle cx="659.4" cy="1314.8" r="4.7"/><circle cx="660.0" cy="1321.6" r="4.7"/><circle cx="650.2" cy="1312.6" r="4.7"/><circle cx="659.5" cy="1319.5" r="4.7"/><circle cx="650.2" cy="1324.3" r="4.7"/><circle cx="657.3" cy="1322.5" r="4.7"/><circle cx="661.4" cy="1316.7" r="4.7"/><circle cx="651.6" cy="1315.4" r="4.7"/><circle cx="653.7" cy="1310.1" r="4.7"/><circle cx="660.8" cy="1318.1" r="4.7"/><circle cx="657.4" cy="1314.6" r="4.7"/><circle cx="659.5" cy="1309.2" r="4.7"/><circle cx="649.4" cy="1321.1" r="4.7"/><circle cx="656.8" cy="1322.2" r="4.7"/><circle cx="656.7" cy="1326.4" r="4.7"/><circle cx="660.4" cy="1317.9" r="4.7"/><circle cx="650.5" cy="1315.3" r="4.7"/><circle cx="653.1" cy="1324.3" r="4.7"/><circle cx="655.3" cy="1325.4" r="4.7"/><circle cx="651.7" cy="1311.4" r="4.7"/><circle cx="658.1" cy="1327.9" r="4.7"/><circle cx="659.1" cy="1327.8" r="4.7"/><circle cx="653.3" cy="1310.6" r="4.7"/><circle cx="657.1" cy="1322.2" r="4.7"/><circle cx="653.9" cy="1320.6" r="4.7"/><circle cx="650.6" cy="1308.8" r="4.7"/><circle cx="649.7" cy="1319.9" r="4.7"/><circle cx="658.7" cy="1320.4" r="4.7"/><circle cx="661.8" cy="1323.4" r="4.7"/><circle cx="661.7" cy="1310.8" r="4.7"/><circle cx="657.7" cy="1310.9" r="4.7"/><circle cx="654.8" cy="1312.0" r="4.7"/><circle cx="659.3" cy="1318.1" r="4.7"/><circle cx="655.1" cy="1314.5" r="4.7"/><circle cx="654.3" cy="1326.4" r="4.7"/><circle cx="658.7" cy="1304.1" r="4.7"/><circle cx="655.3" cy="1295.0" r="4.7"/><circle cx="651.2" cy="1308.4" r="4.7"/><circle cx="650.6" cy="1298.4" r="4.7"/><circle cx="653.7" cy="1304.3" r="4.7"/><circle cx="654.9" cy="1292.5" r="4.7"/><circle cx="652.3" cy="1301.5" r="4.7"/><circle cx="660.4" cy="1298.0" r="4.7"/><circle cx="652.5" cy="1300.4" r="4.7"/><circle cx="655.2" cy="1306.3" r="4.7"/><circle cx="653.9" cy="1303.4" r="4.7"/><circle cx="659.5" cy="1303.1" r="4.7"/><circle cx="657.6" cy="1291.7" r="4.7"/><circle cx="661.0" cy="1302.1" r="4.7"/><circle cx="656.8" cy="1303.1" r="4.7"/><circle cx="654.2" cy="1300.2" r="4.7"/><circle cx="659.3" cy="1292.3" r="4.7"/><circle cx="652.8" cy="1308.7" r="4.7"/><circle cx="654.8" cy="1307.8" r="4.7"/><circle cx="649.4" cy="1295.2" r="4.7"/><circle cx="650.5" cy="1296.1" r="4.7"/><circle cx="653.7" cy="1292.3" r="4.7"/><circle cx="660.1" cy="1307.7" r="4.7"/><circle cx="651.5" cy="1292.1" r="4.7"/><circle cx="657.0" cy="1301.3" r="4.7"/><circle cx="659.2" cy="1294.5" r="4.7"/><circle cx="655.4" cy="1300.5" r="4.7"/><circle cx="650.3" cy="1302.4" r="4.7"/><circle cx="650.9" cy="1297.8" r="4.7"/><circle cx="656.9" cy="1306.2" r="4.7"/><circle cx="657.2" cy="1307.0" r="4.7"/><circle cx="650.4" cy="1297.4" r="4.7"/><circle cx="655.0" cy="1292.9" r="4.7"/><circle cx="657.2" cy="1296.4" r="4.7"/><circle cx="650.7" cy="1294.1" r="4.7"/><circle cx="650.1" cy="1297.9" r="4.7"/><circle cx="660.8" cy="1292.8" r="4.7"/><circle cx="660.6" cy="1300.8" r="4.7"/><circle cx="658.0" cy="1294.8" r="4.7"/><circle cx="650.8" cy="1292.2" r="4.7"/><circle cx="660.4" cy="1283.4" r="4.7"/><circle cx="658.8" cy="1283.3" r="4.7"/><circle cx="652.8" cy="1278.7" r="4.7"/><circle cx="650.3" cy="1277.1" r="4.7"/><circle cx="661.2" cy="1286.2" r="4.7"/><circle cx="660.8" cy="1289.7" r="4.7"/><circle cx="659.8" cy="1286.3" r="4.7"/><circle cx="661.1" cy="1283.6" r="4.7"/><circle cx="660.6" cy="1290.6" r="4.7"/><circle cx="650.5" cy="1276.8" r="4.7"/><circle cx="657.2" cy="1281.8" r="4.7"/><circle cx="649.9" cy="1288.1" r="4.7"/><circle cx="653.9" cy="1290.3" r="4.7"/><circle cx="661.4" cy="1277.7" r="4.7"/><circle cx="660.9" cy="1278.9" r="4.7"/><circle cx="653.6" cy="1289.8" r="4.7"/><circle cx="658.3" cy="1289.2" r="4.7"/><circle cx="656.1" cy="1283.0" r="4.7"/><circle cx="655.4" cy="1289.9" r="4.7"/><circle cx="650.4" cy="1282.0" r="4.7"/><circle cx="649.9" cy="1281.9" r="4.7"/><circle cx="651.3" cy="1286.2" r="4.7"/><circle cx="651.3" cy="1281.2" r="4.7"/><circle cx="654.2" cy="1287.3" r="4.7"/><circle cx="652.2" cy="1281.3" r="4.7"/><circle cx="660.4" cy="1283.8" r="4.7"/><circle cx="651.5" cy="1285.6" r="4.7"/><circle cx="652.4" cy="1281.1" r="4.7"/><circle cx="658.9" cy="1281.2" r="4.7"/><circle cx="651.8" cy="1285.5" r="4.7"/><circle cx="654.8" cy="1265.8" r="4.7"/><circle cx="654.9" cy="1256.1" r="4.7"/><circle cx="655.8" cy="1262.0" r="4.7"/><circle cx="656.8" cy="1262.3" r="4.7"/><circle cx="657.3" cy="1267.1" r="4.7"/><circle cx="656.5" cy="1256.5" r="4.7"/><circle cx="653.5" cy="1262.6" r="4.7"/><circle cx="654.8" cy="1272.5" r="4.7"/><circle cx="652.7" cy="1260.3" r="4.7"/><circle cx="653.2" cy="1261.1" r="4.7"/><circle cx="653.9" cy="1249.6" r="4.7"/><circle cx="653.6" cy="1246.5" r="4.7"/><circle cx="656.6" cy="1252.1" r="4.7"/><circle cx="655.8" cy="1239.8" r="4.7"/><circle cx="654.7" cy="1247.7" r="4.7"/><circle cx="657.5" cy="1225.0" r="4.7"/><circle cx="654.5" cy="1215.0" r="4.7"/><circle cx="660.0" cy="1207.4" r="4.7"/><circle cx="650.0" cy="1200.4" r="4.7"/><circle cx="650.0" cy="1188.6" r="4.7"/><circle cx="656.5" cy="1120.7" r="4.7"/><circle cx="652.5" cy="1069.7" r="4.7"/></g>
<path d="M647.5 1308.6h16" stroke="#5e0c16" stroke-width="2.1" stroke-opacity="0.8" fill="none"/>
</g>
<g>
<rect x="1394.0" y="1036.0" width="162.0" height="325.5" fill="#fff" stroke="#111" stroke-width="2.4"/>
<path d="M1394.0 1353.2h-8.5M1394.0 1304.9h-8.5M1394.0 1256.6h-8.5M1394.0 1208.3h-8.5M1394.0 1160.0h-8.5M1394.0 1111.7h-8.5M1394.0 1063.4h-8.5M1437.2 1361.5v8.5M1512.0 1361.5v8.5" stroke="#111" stroke-width="2.3" fill="none"/>
<text transform="translate(1376.0 1353.2) scale(1.055 1) rotate(-90)" font-size="16.7" text-anchor="middle" fill="#3a3a3a" stroke="#3a3a3a" stroke-width="0.45">-20</text>
<text transform="translate(1376.0 1304.9) scale(1.055 1) rotate(-90)" font-size="16.7" text-anchor="middle" fill="#3a3a3a" stroke="#3a3a3a" stroke-width="0.45">-10</text>
<text transform="translate(1376.0 1256.6) scale(1.055 1) rotate(-90)" font-size="16.7" text-anchor="middle" fill="#3a3a3a" stroke="#3a3a3a" stroke-width="0.45">0</text>
<text transform="translate(1376.0 1208.3) scale(1.055 1) rotate(-90)" font-size="16.7" text-anchor="middle" fill="#3a3a3a" stroke="#3a3a3a" stroke-width="0.45">10</text>
<text transform="translate(1376.0 1160.0) scale(1.055 1) rotate(-90)" font-size="16.7" text-anchor="middle" fill="#3a3a3a" stroke="#3a3a3a" stroke-width="0.45">20</text>
<text transform="translate(1376.0 1111.7) scale(1.055 1) rotate(-90)" font-size="16.7" text-anchor="middle" fill="#3a3a3a" stroke="#3a3a3a" stroke-width="0.45">30</text>
<text transform="translate(1376.0 1063.4) scale(1.055 1) rotate(-90)" font-size="16.7" text-anchor="middle" fill="#3a3a3a" stroke="#3a3a3a" stroke-width="0.45">40</text>
<text transform="translate(1437.2 1388.7) scale(1.055 1)" font-size="16.7" text-anchor="middle" fill="#3a3a3a" stroke="#3a3a3a" stroke-width="0.45">Normal</text>
<text transform="translate(1512.0 1388.7) scale(1.055 1)" font-size="16.7" text-anchor="middle" fill="#3a3a3a" stroke="#3a3a3a" stroke-width="0.45">CRN</text>
<text transform="translate(1345.0 1209.0) scale(1.055 1) rotate(-90)" font-size="20.6" text-anchor="middle" fill="#2a2a2a" stroke="#2a2a2a" stroke-width="0.45">Relative abundance</text>
<path d="M1363.5 1279.8H1586.0" stroke="#d2414c" stroke-width="2.1" stroke-dasharray="13.3 7.7" fill="none"/>
<path d="M1437.2 1069.2V1198.6" stroke="#111" stroke-width="2.2" stroke-dasharray="12 9" stroke-dashoffset="4" fill="none"/>
<path d="M1437.2 1292.3V1320.8" stroke="#111" stroke-width="2.2" fill="none"/>
<path d="M1427.2 1069.2h20M1427.2 1320.8h20" stroke="#111" stroke-width="2.4" fill="none"/>
<rect x="1417.4" y="1198.6" width="39.6" height="93.7" fill="#dcddfb" fill-opacity="0.82" stroke="#3a3a58" stroke-width="1.9"/>
<path d="M1417.4 1266.7h39.6" stroke="#111130" stroke-width="3" fill="none"/>
<path d="M1512.0 1215.1V1262.6" stroke="#111" stroke-width="2.2" fill="none"/>
<path d="M1512.0 1299.1V1327.1" stroke="#111" stroke-width="2.2" fill="none"/>
<path d="M1502.0 1215.1h20M1502.0 1327.1h20" stroke="#111" stroke-width="2.4" fill="none"/>
<rect x="1492.2" y="1262.6" width="39.6" height="36.5" fill="#dcddfb" fill-opacity="0.82" stroke="#3a3a58" stroke-width="1.9"/>
<path d="M1492.2 1281.7h39.6" stroke="#111130" stroke-width="3" fill="none"/>
<g fill="#e9e9fd" stroke="#4a4a66" stroke-width="1.7"><circle cx="1441.2" cy="1199.7" r="3.1"/><circle cx="1441.8" cy="1211.8" r="3.1"/><circle cx="1441.3" cy="1216.4" r="3.1"/><circle cx="1435.3" cy="1264.8" r="3.1"/><circle cx="1431.1" cy="1247.7" r="3.1"/><circle cx="1434.1" cy="1219.6" r="3.1"/><circle cx="1442.9" cy="1199.5" r="3.1"/><circle cx="1443.1" cy="1241.9" r="3.1"/><circle cx="1433.6" cy="1251.3" r="3.1"/><circle cx="1438.8" cy="1205.4" r="3.1"/><circle cx="1441.6" cy="1234.1" r="3.1"/><circle cx="1439.2" cy="1212.3" r="3.1"/><circle cx="1442.5" cy="1213.5" r="3.1"/><circle cx="1440.5" cy="1234.2" r="3.1"/><circle cx="1433.0" cy="1213.0" r="3.1"/><circle cx="1443.3" cy="1239.8" r="3.1"/><circle cx="1435.9" cy="1202.3" r="3.1"/><circle cx="1440.1" cy="1255.2" r="3.1"/><circle cx="1442.5" cy="1211.8" r="3.1"/><circle cx="1432.6" cy="1210.5" r="3.1"/><circle cx="1443.4" cy="1222.0" r="3.1"/><circle cx="1432.4" cy="1265.8" r="3.1"/><circle cx="1443.3" cy="1222.5" r="3.1"/><circle cx="1437.5" cy="1203.2" r="3.1"/><circle cx="1441.4" cy="1252.4" r="3.1"/><circle cx="1434.0" cy="1246.8" r="3.1"/><circle cx="1433.8" cy="1226.8" r="3.1"/></g>
<g fill="none" stroke="#050505" stroke-width="2.7"><circle cx="1436.5" cy="1319.9" r="3.1"/><circle cx="1437.8" cy="1320.4" r="3.1"/><circle cx="1437.3" cy="1318.5" r="3.1"/><circle cx="1431.5" cy="1303.3" r="3.1"/><circle cx="1431.2" cy="1304.9" r="3.1"/><circle cx="1431.6" cy="1312.5" r="3.1"/><circle cx="1436.2" cy="1296.2" r="3.1"/><circle cx="1432.3" cy="1309.6" r="3.1"/><circle cx="1438.9" cy="1293.5" r="3.1"/><circle cx="1438.2" cy="1305.7" r="3.1"/><circle cx="1443.4" cy="1313.5" r="3.1"/><circle cx="1441.9" cy="1308.1" r="3.1"/><circle cx="1432.6" cy="1311.9" r="3.1"/><circle cx="1434.7" cy="1296.4" r="3.1"/><circle cx="1433.0" cy="1301.6" r="3.1"/><circle cx="1439.0" cy="1306.3" r="3.1"/><circle cx="1437.8" cy="1313.2" r="3.1"/><circle cx="1431.5" cy="1310.0" r="3.1"/><circle cx="1439.5" cy="1305.1" r="3.1"/><circle cx="1434.8" cy="1301.5" r="3.1"/><circle cx="1436.6" cy="1307.9" r="3.1"/><circle cx="1441.0" cy="1299.0" r="3.1"/><circle cx="1433.9" cy="1301.8" r="3.1"/><circle cx="1437.5" cy="1295.1" r="3.1"/><circle cx="1440.2" cy="1308.2" r="3.1"/><circle cx="1443.4" cy="1311.9" r="3.1"/><circle cx="1436.1" cy="1297.7" r="3.1"/><circle cx="1432.7" cy="1303.7" r="3.1"/><circle cx="1431.2" cy="1299.7" r="3.1"/><circle cx="1440.6" cy="1301.8" r="3.1"/><circle cx="1442.1" cy="1307.6" r="3.1"/><circle cx="1439.7" cy="1301.4" r="3.1"/><circle cx="1438.2" cy="1304.4" r="3.1"/><circle cx="1441.6" cy="1293.6" r="3.1"/><circle cx="1436.9" cy="1299.8" r="3.1"/><circle cx="1431.5" cy="1299.0" r="3.1"/><circle cx="1439.1" cy="1292.5" r="3.1"/><circle cx="1441.4" cy="1308.2" r="3.1"/><circle cx="1435.7" cy="1299.7" r="3.1"/><circle cx="1431.0" cy="1304.3" r="3.1"/><circle cx="1432.9" cy="1312.0" r="3.1"/><circle cx="1431.5" cy="1297.5" r="3.1"/><circle cx="1432.4" cy="1309.1" r="3.1"/><circle cx="1435.8" cy="1295.2" r="3.1"/><circle cx="1431.7" cy="1304.6" r="3.1"/><circle cx="1437.8" cy="1269.7" r="3.1"/><circle cx="1441.4" cy="1270.2" r="3.1"/><circle cx="1434.3" cy="1281.7" r="3.1"/><circle cx="1435.4" cy="1269.7" r="3.1"/><circle cx="1443.2" cy="1288.5" r="3.1"/><circle cx="1433.0" cy="1286.4" r="3.1"/><circle cx="1433.7" cy="1279.9" r="3.1"/><circle cx="1438.4" cy="1285.6" r="3.1"/><circle cx="1430.8" cy="1281.6" r="3.1"/><circle cx="1435.5" cy="1277.8" r="3.1"/><circle cx="1443.1" cy="1274.7" r="3.1"/><circle cx="1437.4" cy="1276.5" r="3.1"/><circle cx="1439.5" cy="1291.0" r="3.1"/><circle cx="1442.4" cy="1272.4" r="3.1"/><circle cx="1442.1" cy="1271.9" r="3.1"/><circle cx="1435.8" cy="1282.1" r="3.1"/><circle cx="1432.0" cy="1276.1" r="3.1"/><circle cx="1431.5" cy="1290.6" r="3.1"/><circle cx="1433.4" cy="1288.2" r="3.1"/><circle cx="1435.1" cy="1291.0" r="3.1"/><circle cx="1430.7" cy="1288.5" r="3.1"/><circle cx="1432.0" cy="1283.0" r="3.1"/><circle cx="1431.0" cy="1270.0" r="3.1"/><circle cx="1438.7" cy="1288.5" r="3.1"/><circle cx="1434.0" cy="1283.4" r="3.1"/><circle cx="1435.4" cy="1289.2" r="3.1"/><circle cx="1441.7" cy="1266.9" r="3.1"/><circle cx="1436.8" cy="1280.0" r="3.1"/><circle cx="1431.8" cy="1289.7" r="3.1"/><circle cx="1435.2" cy="1285.6" r="3.1"/><circle cx="1441.5" cy="1288.2" r="3.1"/><circle cx="1431.0" cy="1268.0" r="3.1"/><circle cx="1437.6" cy="1288.6" r="3.1"/><circle cx="1437.8" cy="1291.6" r="3.1"/><circle cx="1437.6" cy="1267.3" r="3.1"/><circle cx="1441.9" cy="1274.5" r="3.1"/><circle cx="1434.1" cy="1283.0" r="3.1"/><circle cx="1432.9" cy="1272.6" r="3.1"/><circle cx="1437.6" cy="1272.4" r="3.1"/><circle cx="1435.0" cy="1286.6" r="3.1"/><circle cx="1433.6" cy="1231.5" r="3.1"/><circle cx="1443.1" cy="1236.3" r="3.1"/><circle cx="1433.3" cy="1252.8" r="3.1"/><circle cx="1431.8" cy="1221.8" r="3.1"/><circle cx="1435.0" cy="1212.2" r="3.1"/><circle cx="1432.4" cy="1256.4" r="3.1"/><circle cx="1435.3" cy="1229.4" r="3.1"/><circle cx="1436.3" cy="1207.4" r="3.1"/><circle cx="1434.1" cy="1238.2" r="3.1"/><circle cx="1433.5" cy="1187.7" r="3.1"/><circle cx="1435.7" cy="1193.1" r="3.1"/><circle cx="1438.0" cy="1187.7" r="3.1"/><circle cx="1436.4" cy="1187.6" r="3.1"/><circle cx="1437.2" cy="1192.2" r="3.1"/><circle cx="1437.4" cy="1198.4" r="3.1"/><circle cx="1436.6" cy="1196.4" r="3.1"/><circle cx="1432.2" cy="1189.0" r="3.1"/><circle cx="1433.9" cy="1192.9" r="3.1"/><circle cx="1439.5" cy="1191.9" r="3.1"/><circle cx="1435.3" cy="1150.3" r="3.1"/><circle cx="1437.8" cy="1131.6" r="3.1"/><circle cx="1432.9" cy="1147.3" r="3.1"/><circle cx="1434.4" cy="1167.2" r="3.1"/><circle cx="1440.2" cy="1151.0" r="3.1"/><circle cx="1437.9" cy="1133.3" r="3.1"/><circle cx="1441.7" cy="1155.5" r="3.1"/><circle cx="1438.4" cy="1151.2" r="3.1"/><circle cx="1437.3" cy="1138.0" r="3.1"/><circle cx="1436.7" cy="1149.2" r="3.1"/><circle cx="1437.0" cy="1120.6" r="3.1"/><circle cx="1439.4" cy="1125.2" r="3.1"/><circle cx="1442.1" cy="1168.4" r="3.1"/><circle cx="1437.9" cy="1120.5" r="3.1"/><circle cx="1440.9" cy="1177.0" r="3.1"/><circle cx="1433.0" cy="1155.6" r="3.1"/><circle cx="1432.5" cy="1169.7" r="3.1"/><circle cx="1432.5" cy="1139.7" r="3.1"/><circle cx="1440.3" cy="1123.7" r="3.1"/><circle cx="1433.4" cy="1136.4" r="3.1"/><circle cx="1439.0" cy="1176.6" r="3.1"/><circle cx="1441.4" cy="1118.8" r="3.1"/><circle cx="1434.1" cy="1119.9" r="3.1"/><circle cx="1436.1" cy="1152.4" r="3.1"/><circle cx="1442.6" cy="1128.3" r="3.1"/><circle cx="1433.5" cy="1156.3" r="3.1"/><circle cx="1436.2" cy="1069.2" r="3.1"/><circle cx="1436.2" cy="1116.5" r="3.1"/><circle cx="1444.2" cy="1124.7" r="3.1"/><circle cx="1443.7" cy="1138.3" r="3.1"/><circle cx="1443.7" cy="1155.2" r="3.1"/><circle cx="1443.2" cy="1176.9" r="3.1"/><circle cx="1430.7" cy="1189.0" r="3.1"/><circle cx="1430.2" cy="1162.4" r="3.1"/></g>
<path d="M1428.2 1279.8h16" stroke="#8e1c26" stroke-width="2.1" fill="none"/>
<g fill="#040404"><circle cx="1510.4" cy="1319.8" r="4.7"/><circle cx="1509.8" cy="1322.2" r="4.7"/><circle cx="1509.5" cy="1326.7" r="4.7"/><circle cx="1515.0" cy="1327.0" r="4.7"/><circle cx="1513.7" cy="1306.1" r="4.7"/><circle cx="1511.4" cy="1305.0" r="4.7"/><circle cx="1508.3" cy="1295.3" r="4.7"/><circle cx="1507.1" cy="1312.6" r="4.7"/><circle cx="1506.2" cy="1311.7" r="4.7"/><circle cx="1510.9" cy="1293.2" r="4.7"/><circle cx="1510.5" cy="1316.1" r="4.7"/><circle cx="1509.1" cy="1290.7" r="4.7"/><circle cx="1506.8" cy="1301.4" r="4.7"/><circle cx="1510.5" cy="1300.2" r="4.7"/><circle cx="1510.1" cy="1299.4" r="4.7"/><circle cx="1512.0" cy="1300.6" r="4.7"/><circle cx="1516.8" cy="1302.5" r="4.7"/><circle cx="1507.7" cy="1317.5" r="4.7"/><circle cx="1517.4" cy="1305.2" r="4.7"/><circle cx="1508.3" cy="1292.0" r="4.7"/><circle cx="1512.9" cy="1298.3" r="4.7"/><circle cx="1516.6" cy="1311.1" r="4.7"/><circle cx="1510.3" cy="1293.9" r="4.7"/><circle cx="1507.6" cy="1297.2" r="4.7"/><circle cx="1507.2" cy="1299.4" r="4.7"/><circle cx="1514.4" cy="1291.9" r="4.7"/><circle cx="1516.1" cy="1304.8" r="4.7"/><circle cx="1508.4" cy="1315.0" r="4.7"/><circle cx="1512.3" cy="1304.6" r="4.7"/><circle cx="1506.9" cy="1293.2" r="4.7"/><circle cx="1512.1" cy="1299.1" r="4.7"/><circle cx="1508.6" cy="1312.3" r="4.7"/><circle cx="1506.1" cy="1309.4" r="4.7"/><circle cx="1509.2" cy="1307.1" r="4.7"/><circle cx="1510.5" cy="1295.2" r="4.7"/><circle cx="1516.7" cy="1314.3" r="4.7"/><circle cx="1510.8" cy="1314.6" r="4.7"/><circle cx="1514.0" cy="1291.1" r="4.7"/><circle cx="1508.4" cy="1297.2" r="4.7"/><circle cx="1509.6" cy="1319.0" r="4.7"/><circle cx="1515.2" cy="1309.5" r="4.7"/><circle cx="1508.0" cy="1306.8" r="4.7"/><circle cx="1508.8" cy="1307.5" r="4.7"/><circle cx="1511.4" cy="1307.3" r="4.7"/><circle cx="1513.1" cy="1311.0" r="4.7"/><circle cx="1507.1" cy="1316.9" r="4.7"/><circle cx="1507.3" cy="1304.3" r="4.7"/><circle cx="1510.3" cy="1296.0" r="4.7"/><circle cx="1512.1" cy="1298.9" r="4.7"/><circle cx="1517.8" cy="1317.6" r="4.7"/><circle cx="1506.2" cy="1315.3" r="4.7"/><circle cx="1510.6" cy="1302.8" r="4.7"/><circle cx="1514.9" cy="1309.2" r="4.7"/><circle cx="1517.6" cy="1319.3" r="4.7"/><circle cx="1516.0" cy="1282.3" r="4.7"/><circle cx="1516.5" cy="1289.1" r="4.7"/><circle cx="1517.6" cy="1261.1" r="4.7"/><circle cx="1517.9" cy="1268.0" r="4.7"/><circle cx="1508.1" cy="1252.9" r="4.7"/><circle cx="1511.3" cy="1287.2" r="4.7"/><circle cx="1513.3" cy="1271.2" r="4.7"/><circle cx="1511.7" cy="1284.4" r="4.7"/><circle cx="1507.5" cy="1268.0" r="4.7"/><circle cx="1511.4" cy="1285.5" r="4.7"/><circle cx="1511.3" cy="1262.4" r="4.7"/><circle cx="1514.6" cy="1272.2" r="4.7"/><circle cx="1510.7" cy="1276.5" r="4.7"/><circle cx="1508.7" cy="1282.8" r="4.7"/><circle cx="1511.4" cy="1286.2" r="4.7"/><circle cx="1514.7" cy="1263.0" r="4.7"/><circle cx="1513.3" cy="1289.5" r="4.7"/><circle cx="1510.4" cy="1273.7" r="4.7"/><circle cx="1507.1" cy="1253.0" r="4.7"/><circle cx="1515.1" cy="1271.0" r="4.7"/><circle cx="1514.5" cy="1282.7" r="4.7"/><circle cx="1508.8" cy="1270.1" r="4.7"/><circle cx="1514.9" cy="1265.4" r="4.7"/><circle cx="1506.1" cy="1266.7" r="4.7"/><circle cx="1516.9" cy="1261.7" r="4.7"/><circle cx="1517.1" cy="1252.5" r="4.7"/><circle cx="1508.7" cy="1279.0" r="4.7"/><circle cx="1512.6" cy="1252.7" r="4.7"/><circle cx="1510.4" cy="1254.0" r="4.7"/><circle cx="1516.2" cy="1270.5" r="4.7"/><circle cx="1513.5" cy="1253.4" r="4.7"/><circle cx="1515.4" cy="1279.0" r="4.7"/><circle cx="1516.1" cy="1282.8" r="4.7"/><circle cx="1510.4" cy="1253.4" r="4.7"/><circle cx="1516.2" cy="1278.4" r="4.7"/><circle cx="1509.5" cy="1266.7" r="4.7"/><circle cx="1516.1" cy="1264.0" r="4.7"/><circle cx="1517.2" cy="1262.3" r="4.7"/><circle cx="1515.9" cy="1267.0" r="4.7"/><circle cx="1510.3" cy="1273.9" r="4.7"/><circle cx="1511.9" cy="1270.0" r="4.7"/><circle cx="1516.1" cy="1280.0" r="4.7"/><circle cx="1506.8" cy="1262.1" r="4.7"/><circle cx="1509.3" cy="1274.2" r="4.7"/><circle cx="1507.4" cy="1258.4" r="4.7"/><circle cx="1509.3" cy="1279.1" r="4.7"/><circle cx="1515.7" cy="1270.9" r="4.7"/><circle cx="1509.3" cy="1256.1" r="4.7"/><circle cx="1510.9" cy="1276.4" r="4.7"/><circle cx="1517.6" cy="1259.9" r="4.7"/><circle cx="1515.0" cy="1280.8" r="4.7"/><circle cx="1515.8" cy="1267.4" r="4.7"/><circle cx="1516.0" cy="1276.2" r="4.7"/><circle cx="1515.4" cy="1259.8" r="4.7"/><circle cx="1510.7" cy="1265.1" r="4.7"/><circle cx="1515.4" cy="1252.0" r="4.7"/><circle cx="1517.0" cy="1260.0" r="4.7"/><circle cx="1507.6" cy="1266.8" r="4.7"/><circle cx="1514.2" cy="1287.0" r="4.7"/><circle cx="1511.6" cy="1256.8" r="4.7"/><circle cx="1516.1" cy="1237.0" r="4.7"/><circle cx="1507.9" cy="1242.1" r="4.7"/><circle cx="1515.7" cy="1241.4" r="4.7"/><circle cx="1510.2" cy="1251.2" r="4.7"/><circle cx="1516.2" cy="1238.1" r="4.7"/><circle cx="1513.5" cy="1245.9" r="4.7"/><circle cx="1515.3" cy="1238.8" r="4.7"/><circle cx="1514.2" cy="1242.2" r="4.7"/><circle cx="1510.2" cy="1247.0" r="4.7"/><circle cx="1510.6" cy="1246.6" r="4.7"/><circle cx="1516.5" cy="1215.1" r="4.7"/><circle cx="1513.0" cy="1191.9" r="4.7"/><circle cx="1518.0" cy="1145.0" r="4.7"/></g>
<path d="M1504.0 1279.8h16" stroke="#5e0c16" stroke-width="2.1" stroke-opacity="0.8" fill="none"/>
</g>
<g>
<path d="M982.0 161.5H1496.3" stroke="#c2c2c2" stroke-width="1.9" stroke-dasharray="5.4 5.35" fill="none"/>
<text x="968.5" y="170.3" font-size="24.9" text-anchor="end" fill="#1c1c1c" stroke="#1c1c1c" stroke-width="0.5">Taurine</text>
<circle cx="1443.4" cy="161.5" r="5.8" fill="#0a0aa0" stroke="#0a0a28" stroke-width="1.5"/>
<rect x="1519.3" y="148.3" width="22.6" height="26.4" rx="0.8" fill="#0f6b3a" stroke="#0a0a0a" stroke-width="2"/>
<rect x="1546.6" y="148.3" width="22.6" height="26.4" rx="0.8" fill="#b30b2c" stroke="#0a0a0a" stroke-width="2"/>
<path d="M982.0 228.1H1496.3" stroke="#c2c2c2" stroke-width="1.9" stroke-dasharray="5.4 5.35" fill="none"/>
<text x="968.5" y="236.9" font-size="24.9" text-anchor="end" fill="#1c1c1c" stroke="#1c1c1c" stroke-width="0.5">Glycerol</text>
<circle cx="1403.3" cy="228.1" r="5.8" fill="#0a0aa0" stroke="#0a0a28" stroke-width="1.5"/>
<rect x="1519.3" y="214.9" width="22.6" height="26.4" rx="0.8" fill="#b30b2c" stroke="#0a0a0a" stroke-width="2"/>
<rect x="1546.6" y="214.9" width="22.6" height="26.4" rx="0.8" fill="#0f6b3a" stroke="#0a0a0a" stroke-width="2"/>
<path d="M982.0 294.6H1496.3" stroke="#c2c2c2" stroke-width="1.9" stroke-dasharray="5.4 5.35" fill="none"/>
<text x="968.5" y="303.4" font-size="24.9" text-anchor="end" fill="#1c1c1c" stroke="#1c1c1c" stroke-width="0.5">Alanine</text>
<circle cx="1263.2" cy="294.6" r="5.8" fill="#0a0aa0" stroke="#0a0a28" stroke-width="1.5"/>
<rect x="1519.3" y="281.4" width="22.6" height="26.4" rx="0.8" fill="#0f6b3a" stroke="#0a0a0a" stroke-width="2"/>
<rect x="1546.6" y="281.4" width="22.6" height="26.4" rx="0.8" fill="#b30b2c" stroke="#0a0a0a" stroke-width="2"/>
<path d="M982.0 361.1H1496.3" stroke="#c2c2c2" stroke-width="1.9" stroke-dasharray="5.4 5.35" fill="none"/>
<text x="968.5" y="369.9" font-size="24.9" text-anchor="end" fill="#1c1c1c" stroke="#1c1c1c" stroke-width="0.5">3-Aminoisobutyrate</text>
<circle cx="1239.8" cy="361.1" r="5.8" fill="#0a0aa0" stroke="#0a0a28" stroke-width="1.5"/>
<rect x="1519.3" y="347.9" width="22.6" height="26.4" rx="0.8" fill="#0f6b3a" stroke="#0a0a0a" stroke-width="2"/>
<rect x="1546.6" y="347.9" width="22.6" height="26.4" rx="0.8" fill="#b30b2c" stroke="#0a0a0a" stroke-width="2"/>
<path d="M982.0 427.7H1496.3" stroke="#c2c2c2" stroke-width="1.9" stroke-dasharray="5.4 5.35" fill="none"/>
<text x="968.5" y="436.5" font-size="24.9" text-anchor="end" fill="#1c1c1c" stroke="#1c1c1c" stroke-width="0.5">Ascorbate</text>
<circle cx="1193.1" cy="427.7" r="5.8" fill="#0a0aa0" stroke="#0a0a28" stroke-width="1.5"/>
<rect x="1519.3" y="414.5" width="22.6" height="26.4" rx="0.8" fill="#b30b2c" stroke="#0a0a0a" stroke-width="2"/>
<rect x="1546.6" y="414.5" width="22.6" height="26.4" rx="0.8" fill="#0f6b3a" stroke="#0a0a0a" stroke-width="2"/>
<path d="M982.0 494.2H1496.3" stroke="#c2c2c2" stroke-width="1.9" stroke-dasharray="5.4 5.35" fill="none"/>
<text x="968.5" y="503.1" font-size="24.9" text-anchor="end" fill="#1c1c1c" stroke="#1c1c1c" stroke-width="0.5">Creatinine</text>
<circle cx="1192.1" cy="494.2" r="5.8" fill="#0a0aa0" stroke="#0a0a28" stroke-width="1.5"/>
<rect x="1519.3" y="481.1" width="22.6" height="26.4" rx="0.8" fill="#0f6b3a" stroke="#0a0a0a" stroke-width="2"/>
<rect x="1546.6" y="481.1" width="22.6" height="26.4" rx="0.8" fill="#b30b2c" stroke="#0a0a0a" stroke-width="2"/>
<path d="M982.0 560.8H1496.3" stroke="#c2c2c2" stroke-width="1.9" stroke-dasharray="5.4 5.35" fill="none"/>
<text x="968.5" y="569.6" font-size="24.9" text-anchor="end" fill="#1c1c1c" stroke="#1c1c1c" stroke-width="0.5">Hippurate</text>
<circle cx="1124.1" cy="560.8" r="5.8" fill="#0a0aa0" stroke="#0a0a28" stroke-width="1.5"/>
<rect x="1519.3" y="547.6" width="22.6" height="26.4" rx="0.8" fill="#0f6b3a" stroke="#0a0a0a" stroke-width="2"/>
<rect x="1546.6" y="547.6" width="22.6" height="26.4" rx="0.8" fill="#b30b2c" stroke="#0a0a0a" stroke-width="2"/>
<path d="M982.0 627.3H1496.3" stroke="#c2c2c2" stroke-width="1.9" stroke-dasharray="5.4 5.35" fill="none"/>
<text x="968.5" y="636.1" font-size="24.9" text-anchor="end" fill="#1c1c1c" stroke="#1c1c1c" stroke-width="0.5">N-phenylacetylglycin</text>
<circle cx="1119.6" cy="627.3" r="5.8" fill="#0a0aa0" stroke="#0a0a28" stroke-width="1.5"/>
<rect x="1519.3" y="614.1" width="22.6" height="26.4" rx="0.8" fill="#0f6b3a" stroke="#0a0a0a" stroke-width="2"/>
<rect x="1546.6" y="614.1" width="22.6" height="26.4" rx="0.8" fill="#b30b2c" stroke="#0a0a0a" stroke-width="2"/>
<path d="M982.0 693.9H1496.3" stroke="#c2c2c2" stroke-width="1.9" stroke-dasharray="5.4 5.35" fill="none"/>
<text x="968.5" y="702.7" font-size="24.9" text-anchor="end" fill="#1c1c1c" stroke="#1c1c1c" stroke-width="0.5">Valine</text>
<circle cx="1091.0" cy="693.9" r="5.8" fill="#0a0aa0" stroke="#0a0a28" stroke-width="1.5"/>
<rect x="1519.3" y="680.7" width="22.6" height="26.4" rx="0.8" fill="#b30b2c" stroke="#0a0a0a" stroke-width="2"/>
<rect x="1546.6" y="680.7" width="22.6" height="26.4" rx="0.8" fill="#0f6b3a" stroke="#0a0a0a" stroke-width="2"/>
<path d="M982.0 760.4H1496.3" stroke="#c2c2c2" stroke-width="1.9" stroke-dasharray="5.4 5.35" fill="none"/>
<text x="968.5" y="769.2" font-size="24.9" text-anchor="end" fill="#1c1c1c" stroke="#1c1c1c" stroke-width="0.5">Citrate</text>
<circle cx="1088.2" cy="760.4" r="5.8" fill="#0a0aa0" stroke="#0a0a28" stroke-width="1.5"/>
<rect x="1519.3" y="747.2" width="22.6" height="26.4" rx="0.8" fill="#b30b2c" stroke="#0a0a0a" stroke-width="2"/>
<rect x="1546.6" y="747.2" width="22.6" height="26.4" rx="0.8" fill="#0f6b3a" stroke="#0a0a0a" stroke-width="2"/>
<path d="M982.0 827.0H1496.3" stroke="#c2c2c2" stroke-width="1.9" stroke-dasharray="5.4 5.35" fill="none"/>
<text x="968.5" y="835.8" font-size="24.9" text-anchor="end" fill="#1c1c1c" stroke="#1c1c1c" stroke-width="0.5">Threonine</text>
<circle cx="1031.0" cy="827.0" r="5.8" fill="#0a0aa0" stroke="#0a0a28" stroke-width="1.5"/>
<rect x="1519.3" y="813.8" width="22.6" height="26.4" rx="0.8" fill="#0f6b3a" stroke="#0a0a0a" stroke-width="2"/>
<rect x="1546.6" y="813.8" width="22.6" height="26.4" rx="0.8" fill="#b30b2c" stroke="#0a0a0a" stroke-width="2"/>
<rect x="978.0" y="94.5" width="519.3" height="799.1" fill="none" stroke="#111" stroke-width="2.3"/>
<text x="1007.8" y="937.8" font-size="24.9" text-anchor="middle" fill="#2a2a2a" stroke="#2a2a2a" stroke-width="0.5">0.0</text>
<text x="1121.6" y="937.8" font-size="24.9" text-anchor="middle" fill="#2a2a2a" stroke="#2a2a2a" stroke-width="0.5">0.5</text>
<text x="1241.8" y="937.8" font-size="24.9" text-anchor="middle" fill="#2a2a2a" stroke="#2a2a2a" stroke-width="0.5">1.0</text>
<text x="1361.1" y="937.8" font-size="24.9" text-anchor="middle" fill="#2a2a2a" stroke="#2a2a2a" stroke-width="0.5">1.5</text>
<text x="1478.9" y="937.8" font-size="24.9" text-anchor="middle" fill="#2a2a2a" stroke="#2a2a2a" stroke-width="0.5">2.0</text>
<path d="M1006.8 893.6v13M1124.1 893.6v13M1241.4 893.6v13M1358.7 893.6v13M1476.0 893.6v13" stroke="#111" stroke-width="2" fill="none"/>
<text x="1538.0" y="97.0" font-size="21" text-anchor="middle" fill="#222" transform="rotate(-40 1538.0 97.0)">0</text>
<text x="1564.5" y="96.0" font-size="21" text-anchor="middle" fill="#222" transform="rotate(-40 1564.5 96.0)">1</text>
<text x="1619.0" y="333.3" font-size="20.3" text-anchor="middle" fill="#2a2a2a" stroke="#2a2a2a" stroke-width="0.3">High</text>
<text x="1618.0" y="668.0" font-size="20.5" text-anchor="middle" fill="#2a2a2a" stroke="#2a2a2a" stroke-width="0.3">Low</text>
<rect x="1610.5" y="351.50" width="17" height="14.65" fill="#a50026"/>
<rect x="1610.5" y="365.75" width="17" height="14.65" fill="#bd1726"/>
<rect x="1610.5" y="380.00" width="17" height="14.65" fill="#d62f27"/>
<rect x="1610.5" y="394.25" width="17" height="14.65" fill="#e54e35"/>
<rect x="1610.5" y="408.50" width="17" height="14.65" fill="#f46d43"/>
<rect x="1610.5" y="422.75" width="17" height="14.65" fill="#f88e52"/>
<rect x="1610.5" y="437.00" width="17" height="14.65" fill="#fdad60"/>
<rect x="1610.5" y="451.25" width="17" height="14.65" fill="#fdc776"/>
<rect x="1610.5" y="465.50" width="17" height="14.65" fill="#fee08b"/>
<rect x="1610.5" y="479.75" width="17" height="14.65" fill="#ffefa5"/>
<rect x="1610.5" y="494.00" width="17" height="14.65" fill="#efee9f"/>
<rect x="1610.5" y="508.25" width="17" height="14.65" fill="#d9ef8b"/>
<rect x="1610.5" y="522.50" width="17" height="14.65" fill="#bfe47a"/>
<rect x="1610.5" y="536.75" width="17" height="14.65" fill="#a6d96a"/>
<rect x="1610.5" y="551.00" width="17" height="14.65" fill="#86cb66"/>
<rect x="1610.5" y="565.25" width="17" height="14.65" fill="#66bd63"/>
<rect x="1610.5" y="579.50" width="17" height="14.65" fill="#3faa59"/>
<rect x="1610.5" y="593.75" width="17" height="14.65" fill="#1a9850"/>
<rect x="1610.5" y="608.00" width="17" height="14.65" fill="#0c7f43"/>
<rect x="1610.5" y="622.25" width="17" height="14.65" fill="#006837"/>
</g>
</svg>
</body></html>
